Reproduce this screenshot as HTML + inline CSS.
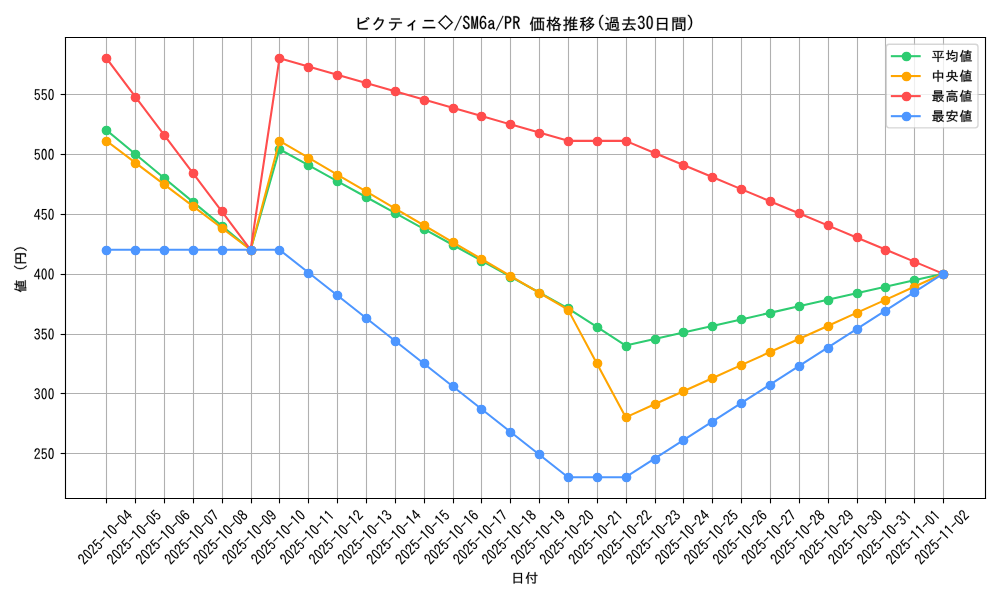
<!DOCTYPE html>
<html><head><meta charset="utf-8"><title>chart</title>
<style>html,body{margin:0;padding:0;background:#fff;width:1000px;height:600px;overflow:hidden;font-family:"Liberation Sans",sans-serif}svg{display:block}g[id^="text_"]{stroke:#000;stroke-width:110}#text_1,#text_2,#text_3,#text_4,#text_5,#text_6,#text_7,#text_8,#text_9,#text_10,#text_11,#text_12,#text_13,#text_14,#text_15,#text_16,#text_17,#text_18,#text_19,#text_20,#text_21,#text_22,#text_23,#text_24,#text_25,#text_26,#text_27,#text_28,#text_29,#text_30,#text_32,#text_33,#text_34,#text_35,#text_36,#text_37,#text_38{stroke-width:50}</style>
</head><body>
<svg width="1000" height="600" viewBox="0 0 720 432" version="1.1">
  <defs>
  <style type="text/css">*{stroke-linejoin: round; stroke-linecap: butt}#text_1,#text_2,#text_3,#text_4,#text_5,#text_6,#text_7,#text_8,#text_9,#text_10,#text_11,#text_12,#text_13,#text_14,#text_15,#text_16,#text_17,#text_18,#text_19,#text_20,#text_21,#text_22,#text_23,#text_24,#text_25,#text_26,#text_27,#text_28,#text_29,#text_30,#text_32,#text_33,#text_34,#text_35,#text_36,#text_37,#text_38{stroke-width:50}</style>
 </defs>
 <g id="figure_1">
  <g id="patch_1">
   <path d="M 0 432 L 720 432 L 720 0 L 0 0 z
" style="fill: #ffffff"/>
  </g>
  <g id="axes_1">
   <g id="patch_2">
    <path d="M 46.4688 358.668 L 709.1568 358.668 L 709.1568 26.856 L 46.4688 26.856 z
" style="fill: #ffffff"/>
   </g>
   <g id="matplotlib.axis_1">
    <g id="xtick_1">
     <g id="line2d_1">
      <path d="M 76.68 358.92 L 76.68 27" clip-path="url(#p3c53676259)" style="fill: none; stroke: #b0b0b0; stroke-width: 0.8; stroke-linecap: square"/>
     </g>
     <g id="line2d_2">
      <defs>
       <path id="mcae35daba4" d="M 0 0 L 0 3.5 " style="stroke: #000000; stroke-width: 0.8"/>
      </defs>
      <g>
       <use href="#mcae35daba4" x="76.68" y="358.92" style="stroke: #000000; stroke-width: 0.8"/>
      </g>
     </g>
     <g id="text_1">
      <!-- 2025-10-04 -->
      <g transform="translate(60.4985 406.8877) rotate(-45) scale(0.1 -0.1)">
       <defs>
        <path id="IPAGothic-32" d="M 2900 325 L 250 325 Q 441 1553 1528 2453 Q 1963 2806 2116 3034 Q 2316 3319 2316 3706 Q 2316 4022 2175 4219 Q 1994 4494 1631 4494 Q 894 4494 825 3406 L 322 3406 Q 359 4056 628 4428 Q 981 4928 1644 4928 Q 2106 4928 2425 4659 Q 2828 4313 2828 3713 Q 2828 2875 1881 2156 Q 1072 1541 909 800 L 2900 800 L 2900 325 z
" transform="matrix(0.0153125 0 0 0.0167188 0 -5.40625)"/>
        <path id="IPAGothic-30" d="M 1600 4934 Q 2844 4934 2844 2566 Q 2844 197 1600 197 Q 359 197 359 2566 Q 359 4934 1600 4934 z M 1600 4494 Q 884 4494 884 2566 Q 884 638 1600 638 Q 2319 638 2319 2566 Q 2319 4494 1600 4494 z" transform="matrix(0.0153125 0 0 0.0167188 0 -5.40625)"/>
        <path id="IPAGothic-35" d="M 566 4806 L 2691 4806 L 2691 4359 L 1013 4359 L 944 2888 Q 1259 3250 1738 3250 Q 2250 3250 2588 2816 Q 2909 2397 2909 1772 Q 2909 1238 2697 844 Q 2341 197 1591 197 Q 538 197 328 1375 L 841 1375 Q 947 644 1588 644 Q 2000 644 2228 997 Q 2422 1294 2422 1766 Q 2422 2184 2259 2456 Q 2059 2822 1653 2822 Q 1156 2822 859 2225 L 456 2309 L 566 4806 z
" transform="matrix(0.0153125 0 0 0.0167188 0 -5.40625)"/>
        <path id="IPAGothic-2d" d="M 313 2663 L 2884 2663 L 2884 2203 L 313 2203 L 313 2663 z
" transform="scale(0.015625)"/>
        <path id="IPAGothic-31" d="M 1428 325 L 1428 4153 Q 1188 3991 756 3809 L 756 4325 Q 1256 4509 1563 4806 L 1953 4806 L 1953 325 L 1428 325 z
" transform="matrix(0.0153125 0 0 0.0167188 0 -5.40625)"/>
        <path id="IPAGothic-34" d="M 1966 4806 L 2509 4806 L 2509 1869 L 3041 1869 L 3041 1434 L 2509 1434 L 2509 325 L 2034 325 L 2034 1434 L 159 1434 L 159 1881 L 1966 4806 z
M 2034 4109 L 641 1869 L 2034 1869 L 2034 4109 z
" transform="matrix(0.0153125 0 0 0.0167188 0 -5.40625)"/>
       </defs>
       <use href="#IPAGothic-32"/>
       <use href="#IPAGothic-30" transform="translate(50 0)"/>
       <use href="#IPAGothic-32" transform="translate(100 0)"/>
       <use href="#IPAGothic-35" transform="translate(150 0)"/>
       <use href="#IPAGothic-2d" transform="translate(200 0)"/>
       <use href="#IPAGothic-31" transform="translate(250 0)"/>
       <use href="#IPAGothic-30" transform="translate(300 0)"/>
       <use href="#IPAGothic-2d" transform="translate(350 0)"/>
       <use href="#IPAGothic-30" transform="translate(400 0)"/>
       <use href="#IPAGothic-34" transform="translate(450 0)"/>
      </g>
     </g>
    </g>
    <g id="xtick_2">
     <g id="line2d_3">
      <path d="M 97.56 358.92 L 97.56 27" clip-path="url(#p3c53676259)" style="fill: none; stroke: #b0b0b0; stroke-width: 0.8; stroke-linecap: square"/>
     </g>
     <g id="line2d_4">
      <g>
       <use href="#mcae35daba4" x="97.56" y="358.92" style="stroke: #000000; stroke-width: 0.8"/>
      </g>
     </g>
     <g id="text_2">
      <!-- 2025-10-05 -->
      <g transform="translate(81.2725 406.8877) rotate(-45) scale(0.1 -0.1)">
       <use href="#IPAGothic-32"/>
       <use href="#IPAGothic-30" transform="translate(50 0)"/>
       <use href="#IPAGothic-32" transform="translate(100 0)"/>
       <use href="#IPAGothic-35" transform="translate(150 0)"/>
       <use href="#IPAGothic-2d" transform="translate(200 0)"/>
       <use href="#IPAGothic-31" transform="translate(250 0)"/>
       <use href="#IPAGothic-30" transform="translate(300 0)"/>
       <use href="#IPAGothic-2d" transform="translate(350 0)"/>
       <use href="#IPAGothic-30" transform="translate(400 0)"/>
       <use href="#IPAGothic-35" transform="translate(450 0)"/>
      </g>
     </g>
    </g>
    <g id="xtick_3">
     <g id="line2d_5">
      <path d="M 118.44 358.92 L 118.44 27" clip-path="url(#p3c53676259)" style="fill: none; stroke: #b0b0b0; stroke-width: 0.8; stroke-linecap: square"/>
     </g>
     <g id="line2d_6">
      <g>
       <use href="#mcae35daba4" x="118.44" y="358.92" style="stroke: #000000; stroke-width: 0.8"/>
      </g>
     </g>
     <g id="text_3">
      <!-- 2025-10-06 -->
      <g transform="translate(102.0464 406.8877) rotate(-45) scale(0.1 -0.1)">
       <defs>
        <path id="IPAGothic-36" d="M 2322 3809 Q 2225 4488 1713 4488 Q 1269 4488 1028 3950 Q 803 3447 794 2588 Q 1159 3119 1725 3119 Q 2194 3119 2519 2772 Q 2903 2369 2903 1709 Q 2903 1159 2641 750 Q 2284 200 1638 200 Q 1050 200 697 738 Q 319 1328 319 2375 Q 319 3488 650 4172 Q 1028 4934 1706 4934 Q 2634 4934 2847 3809 L 2322 3809 z
M 1644 2703 Q 1272 2703 1047 2363 Q 875 2094 875 1691 Q 875 1328 997 1075 Q 1209 641 1650 641 Q 2003 641 2219 959 Q 2409 1241 2409 1697 Q 2409 2113 2244 2375 Q 2041 2703 1644 2703 z
" transform="matrix(0.0153125 0 0 0.0167188 0 -5.40625)"/>
       </defs>
       <use href="#IPAGothic-32"/>
       <use href="#IPAGothic-30" transform="translate(50 0)"/>
       <use href="#IPAGothic-32" transform="translate(100 0)"/>
       <use href="#IPAGothic-35" transform="translate(150 0)"/>
       <use href="#IPAGothic-2d" transform="translate(200 0)"/>
       <use href="#IPAGothic-31" transform="translate(250 0)"/>
       <use href="#IPAGothic-30" transform="translate(300 0)"/>
       <use href="#IPAGothic-2d" transform="translate(350 0)"/>
       <use href="#IPAGothic-30" transform="translate(400 0)"/>
       <use href="#IPAGothic-36" transform="translate(450 0)"/>
      </g>
     </g>
    </g>
    <g id="xtick_4">
     <g id="line2d_7">
      <path d="M 139.32 358.92 L 139.32 27" clip-path="url(#p3c53676259)" style="fill: none; stroke: #b0b0b0; stroke-width: 0.8; stroke-linecap: square"/>
     </g>
     <g id="line2d_8">
      <g>
       <use href="#mcae35daba4" x="139.32" y="358.92" style="stroke: #000000; stroke-width: 0.8"/>
      </g>
     </g>
     <g id="text_4">
      <!-- 2025-10-07 -->
      <g transform="translate(122.8203 406.8877) rotate(-45) scale(0.1 -0.1)">
       <defs>
        <path id="IPAGothic-37" d="M 319 4806 L 2878 4806 L 2878 4441 Q 1978 2213 1528 325 L 947 325 Q 1434 2050 2328 4319 L 319 4319 L 319 4806 z
" transform="matrix(0.0153125 0 0 0.0167188 0 -5.40625)"/>
       </defs>
       <use href="#IPAGothic-32"/>
       <use href="#IPAGothic-30" transform="translate(50 0)"/>
       <use href="#IPAGothic-32" transform="translate(100 0)"/>
       <use href="#IPAGothic-35" transform="translate(150 0)"/>
       <use href="#IPAGothic-2d" transform="translate(200 0)"/>
       <use href="#IPAGothic-31" transform="translate(250 0)"/>
       <use href="#IPAGothic-30" transform="translate(300 0)"/>
       <use href="#IPAGothic-2d" transform="translate(350 0)"/>
       <use href="#IPAGothic-30" transform="translate(400 0)"/>
       <use href="#IPAGothic-37" transform="translate(450 0)"/>
      </g>
     </g>
    </g>
    <g id="xtick_5">
     <g id="line2d_9">
      <path d="M 160.2 358.92 L 160.2 27" clip-path="url(#p3c53676259)" style="fill: none; stroke: #b0b0b0; stroke-width: 0.8; stroke-linecap: square"/>
     </g>
     <g id="line2d_10">
      <g>
       <use href="#mcae35daba4" x="160.2" y="358.92" style="stroke: #000000; stroke-width: 0.8"/>
      </g>
     </g>
     <g id="text_5">
      <!-- 2025-10-08 -->
      <g transform="translate(143.5942 406.8877) rotate(-45) scale(0.1 -0.1)">
       <defs>
        <path id="IPAGothic-38" d="M 1050 2741 Q 403 3056 403 3750 Q 403 4084 563 4359 Q 900 4934 1600 4934 Q 1950 4934 2253 4750 Q 2797 4416 2797 3750 Q 2797 3056 2150 2741 Q 2978 2422 2978 1541 Q 2978 1038 2697 678 Q 2322 197 1600 197 Q 988 197 616 550 Q 225 922 225 1541 Q 225 2422 1050 2741 z
M 1600 4525 Q 1278 4525 1075 4294 Q 891 4078 891 3756 Q 891 3544 969 3372 Q 1159 2956 1606 2956 Q 1863 2956 2041 3116 Q 2309 3347 2309 3756 Q 2309 4156 2041 4378 Q 1856 4525 1600 4525 z
M 1594 2497 Q 1178 2497 931 2191 Q 725 1925 725 1541 Q 725 1172 925 925 Q 1172 619 1600 619 Q 2031 619 2281 925 Q 2478 1172 2478 1541 Q 2478 2022 2184 2278 Q 1947 2497 1594 2497 z
" transform="matrix(0.0153125 0 0 0.0167188 0 -5.40625)"/>
       </defs>
       <use href="#IPAGothic-32"/>
       <use href="#IPAGothic-30" transform="translate(50 0)"/>
       <use href="#IPAGothic-32" transform="translate(100 0)"/>
       <use href="#IPAGothic-35" transform="translate(150 0)"/>
       <use href="#IPAGothic-2d" transform="translate(200 0)"/>
       <use href="#IPAGothic-31" transform="translate(250 0)"/>
       <use href="#IPAGothic-30" transform="translate(300 0)"/>
       <use href="#IPAGothic-2d" transform="translate(350 0)"/>
       <use href="#IPAGothic-30" transform="translate(400 0)"/>
       <use href="#IPAGothic-38" transform="translate(450 0)"/>
      </g>
     </g>
    </g>
    <g id="xtick_6">
     <g id="line2d_11">
      <path d="M 181.08 358.92 L 181.08 27" clip-path="url(#p3c53676259)" style="fill: none; stroke: #b0b0b0; stroke-width: 0.8; stroke-linecap: square"/>
     </g>
     <g id="line2d_12">
      <g>
       <use href="#mcae35daba4" x="181.08" y="358.92" style="stroke: #000000; stroke-width: 0.8"/>
      </g>
     </g>
     <g id="text_6">
      <!-- 2025-10-09 -->
      <g transform="translate(164.3681 406.8877) rotate(-45) scale(0.1 -0.1)">
       <defs>
        <path id="IPAGothic-39" d="M 909 1363 Q 988 666 1569 666 Q 2431 666 2422 2500 Q 2063 1972 1519 1972 Q 859 1972 531 2588 Q 347 2947 347 3419 Q 347 4019 672 4459 Q 1022 4934 1569 4934 Q 2888 4934 2888 2706 Q 2888 197 1575 197 Q 975 197 628 716 Q 450 984 384 1363 L 909 1363 z
M 1591 4494 Q 834 4494 834 3431 Q 834 3038 969 2778 Q 1169 2394 1591 2394 Q 1859 2394 2069 2631 Q 2338 2938 2338 3431 Q 2338 3925 2125 4213 Q 1922 4494 1591 4494 z
" transform="matrix(0.0153125 0 0 0.0167188 0 -5.40625)"/>
       </defs>
       <use href="#IPAGothic-32"/>
       <use href="#IPAGothic-30" transform="translate(50 0)"/>
       <use href="#IPAGothic-32" transform="translate(100 0)"/>
       <use href="#IPAGothic-35" transform="translate(150 0)"/>
       <use href="#IPAGothic-2d" transform="translate(200 0)"/>
       <use href="#IPAGothic-31" transform="translate(250 0)"/>
       <use href="#IPAGothic-30" transform="translate(300 0)"/>
       <use href="#IPAGothic-2d" transform="translate(350 0)"/>
       <use href="#IPAGothic-30" transform="translate(400 0)"/>
       <use href="#IPAGothic-39" transform="translate(450 0)"/>
      </g>
     </g>
    </g>
    <g id="xtick_7">
     <g id="line2d_13">
      <path d="M 201.24 358.92 L 201.24 27" clip-path="url(#p3c53676259)" style="fill: none; stroke: #b0b0b0; stroke-width: 0.8; stroke-linecap: square"/>
     </g>
     <g id="line2d_14">
      <g>
       <use href="#mcae35daba4" x="201.24" y="358.92" style="stroke: #000000; stroke-width: 0.8"/>
      </g>
     </g>
     <g id="text_7">
      <!-- 2025-10-10 -->
      <g transform="translate(185.142 406.8877) rotate(-45) scale(0.1 -0.1)">
       <use href="#IPAGothic-32"/>
       <use href="#IPAGothic-30" transform="translate(50 0)"/>
       <use href="#IPAGothic-32" transform="translate(100 0)"/>
       <use href="#IPAGothic-35" transform="translate(150 0)"/>
       <use href="#IPAGothic-2d" transform="translate(200 0)"/>
       <use href="#IPAGothic-31" transform="translate(250 0)"/>
       <use href="#IPAGothic-30" transform="translate(300 0)"/>
       <use href="#IPAGothic-2d" transform="translate(350 0)"/>
       <use href="#IPAGothic-31" transform="translate(400 0)"/>
       <use href="#IPAGothic-30" transform="translate(450 0)"/>
      </g>
     </g>
    </g>
    <g id="xtick_8">
     <g id="line2d_15">
      <path d="M 222.12 358.92 L 222.12 27" clip-path="url(#p3c53676259)" style="fill: none; stroke: #b0b0b0; stroke-width: 0.8; stroke-linecap: square"/>
     </g>
     <g id="line2d_16">
      <g>
       <use href="#mcae35daba4" x="222.12" y="358.92" style="stroke: #000000; stroke-width: 0.8"/>
      </g>
     </g>
     <g id="text_8">
      <!-- 2025-10-11 -->
      <g transform="translate(205.916 406.8877) rotate(-45) scale(0.1 -0.1)">
       <use href="#IPAGothic-32"/>
       <use href="#IPAGothic-30" transform="translate(50 0)"/>
       <use href="#IPAGothic-32" transform="translate(100 0)"/>
       <use href="#IPAGothic-35" transform="translate(150 0)"/>
       <use href="#IPAGothic-2d" transform="translate(200 0)"/>
       <use href="#IPAGothic-31" transform="translate(250 0)"/>
       <use href="#IPAGothic-30" transform="translate(300 0)"/>
       <use href="#IPAGothic-2d" transform="translate(350 0)"/>
       <use href="#IPAGothic-31" transform="translate(400 0)"/>
       <use href="#IPAGothic-31" transform="translate(450 0)"/>
      </g>
     </g>
    </g>
    <g id="xtick_9">
     <g id="line2d_17">
      <path d="M 243 358.92 L 243 27" clip-path="url(#p3c53676259)" style="fill: none; stroke: #b0b0b0; stroke-width: 0.8; stroke-linecap: square"/>
     </g>
     <g id="line2d_18">
      <g>
       <use href="#mcae35daba4" x="243" y="358.92" style="stroke: #000000; stroke-width: 0.8"/>
      </g>
     </g>
     <g id="text_9">
      <!-- 2025-10-12 -->
      <g transform="translate(226.6899 406.8877) rotate(-45) scale(0.1 -0.1)">
       <use href="#IPAGothic-32"/>
       <use href="#IPAGothic-30" transform="translate(50 0)"/>
       <use href="#IPAGothic-32" transform="translate(100 0)"/>
       <use href="#IPAGothic-35" transform="translate(150 0)"/>
       <use href="#IPAGothic-2d" transform="translate(200 0)"/>
       <use href="#IPAGothic-31" transform="translate(250 0)"/>
       <use href="#IPAGothic-30" transform="translate(300 0)"/>
       <use href="#IPAGothic-2d" transform="translate(350 0)"/>
       <use href="#IPAGothic-31" transform="translate(400 0)"/>
       <use href="#IPAGothic-32" transform="translate(450 0)"/>
      </g>
     </g>
    </g>
    <g id="xtick_10">
     <g id="line2d_19">
      <path d="M 263.88 358.92 L 263.88 27" clip-path="url(#p3c53676259)" style="fill: none; stroke: #b0b0b0; stroke-width: 0.8; stroke-linecap: square"/>
     </g>
     <g id="line2d_20">
      <g>
       <use href="#mcae35daba4" x="263.88" y="358.92" style="stroke: #000000; stroke-width: 0.8"/>
      </g>
     </g>
     <g id="text_10">
      <!-- 2025-10-13 -->
      <g transform="translate(247.4638 406.8877) rotate(-45) scale(0.1 -0.1)">
       <defs>
        <path id="IPAGothic-33" d="M 1113 2931 L 1431 2931 Q 1841 2931 1994 3047 Q 2281 3269 2281 3713 Q 2281 4500 1566 4500 Q 972 4500 838 3828 L 331 3828 Q 400 4250 625 4525 Q 969 4934 1566 4934 Q 2066 4934 2391 4647 Q 2775 4309 2775 3731 Q 2775 2953 2078 2713 Q 2919 2388 2919 1528 Q 2919 978 2606 625 Q 2231 197 1575 197 Q 959 197 594 619 Q 325 928 269 1472 L 794 1472 Q 859 638 1575 638 Q 1906 638 2131 825 Q 2413 1066 2413 1528 Q 2413 2522 1431 2522 L 1113 2522 L 1113 2931 z
" transform="matrix(0.0153125 0 0 0.0167188 0 -5.40625)"/>
       </defs>
       <use href="#IPAGothic-32"/>
       <use href="#IPAGothic-30" transform="translate(50 0)"/>
       <use href="#IPAGothic-32" transform="translate(100 0)"/>
       <use href="#IPAGothic-35" transform="translate(150 0)"/>
       <use href="#IPAGothic-2d" transform="translate(200 0)"/>
       <use href="#IPAGothic-31" transform="translate(250 0)"/>
       <use href="#IPAGothic-30" transform="translate(300 0)"/>
       <use href="#IPAGothic-2d" transform="translate(350 0)"/>
       <use href="#IPAGothic-31" transform="translate(400 0)"/>
       <use href="#IPAGothic-33" transform="translate(450 0)"/>
      </g>
     </g>
    </g>
    <g id="xtick_11">
     <g id="line2d_21">
      <path d="M 284.76 358.92 L 284.76 27" clip-path="url(#p3c53676259)" style="fill: none; stroke: #b0b0b0; stroke-width: 0.8; stroke-linecap: square"/>
     </g>
     <g id="line2d_22">
      <g>
       <use href="#mcae35daba4" x="284.76" y="358.92" style="stroke: #000000; stroke-width: 0.8"/>
      </g>
     </g>
     <g id="text_11">
      <!-- 2025-10-14 -->
      <g transform="translate(268.2377 406.8877) rotate(-45) scale(0.1 -0.1)">
       <use href="#IPAGothic-32"/>
       <use href="#IPAGothic-30" transform="translate(50 0)"/>
       <use href="#IPAGothic-32" transform="translate(100 0)"/>
       <use href="#IPAGothic-35" transform="translate(150 0)"/>
       <use href="#IPAGothic-2d" transform="translate(200 0)"/>
       <use href="#IPAGothic-31" transform="translate(250 0)"/>
       <use href="#IPAGothic-30" transform="translate(300 0)"/>
       <use href="#IPAGothic-2d" transform="translate(350 0)"/>
       <use href="#IPAGothic-31" transform="translate(400 0)"/>
       <use href="#IPAGothic-34" transform="translate(450 0)"/>
      </g>
     </g>
    </g>
    <g id="xtick_12">
     <g id="line2d_23">
      <path d="M 305.64 358.92 L 305.64 27" clip-path="url(#p3c53676259)" style="fill: none; stroke: #b0b0b0; stroke-width: 0.8; stroke-linecap: square"/>
     </g>
     <g id="line2d_24">
      <g>
       <use href="#mcae35daba4" x="305.64" y="358.92" style="stroke: #000000; stroke-width: 0.8"/>
      </g>
     </g>
     <g id="text_12">
      <!-- 2025-10-15 -->
      <g transform="translate(289.0116 406.8877) rotate(-45) scale(0.1 -0.1)">
       <use href="#IPAGothic-32"/>
       <use href="#IPAGothic-30" transform="translate(50 0)"/>
       <use href="#IPAGothic-32" transform="translate(100 0)"/>
       <use href="#IPAGothic-35" transform="translate(150 0)"/>
       <use href="#IPAGothic-2d" transform="translate(200 0)"/>
       <use href="#IPAGothic-31" transform="translate(250 0)"/>
       <use href="#IPAGothic-30" transform="translate(300 0)"/>
       <use href="#IPAGothic-2d" transform="translate(350 0)"/>
       <use href="#IPAGothic-31" transform="translate(400 0)"/>
       <use href="#IPAGothic-35" transform="translate(450 0)"/>
      </g>
     </g>
    </g>
    <g id="xtick_13">
     <g id="line2d_25">
      <path d="M 326.52 358.92 L 326.52 27" clip-path="url(#p3c53676259)" style="fill: none; stroke: #b0b0b0; stroke-width: 0.8; stroke-linecap: square"/>
     </g>
     <g id="line2d_26">
      <g>
       <use href="#mcae35daba4" x="326.52" y="358.92" style="stroke: #000000; stroke-width: 0.8"/>
      </g>
     </g>
     <g id="text_13">
      <!-- 2025-10-16 -->
      <g transform="translate(309.7856 406.8877) rotate(-45) scale(0.1 -0.1)">
       <use href="#IPAGothic-32"/>
       <use href="#IPAGothic-30" transform="translate(50 0)"/>
       <use href="#IPAGothic-32" transform="translate(100 0)"/>
       <use href="#IPAGothic-35" transform="translate(150 0)"/>
       <use href="#IPAGothic-2d" transform="translate(200 0)"/>
       <use href="#IPAGothic-31" transform="translate(250 0)"/>
       <use href="#IPAGothic-30" transform="translate(300 0)"/>
       <use href="#IPAGothic-2d" transform="translate(350 0)"/>
       <use href="#IPAGothic-31" transform="translate(400 0)"/>
       <use href="#IPAGothic-36" transform="translate(450 0)"/>
      </g>
     </g>
    </g>
    <g id="xtick_14">
     <g id="line2d_27">
      <path d="M 346.68 358.92 L 346.68 27" clip-path="url(#p3c53676259)" style="fill: none; stroke: #b0b0b0; stroke-width: 0.8; stroke-linecap: square"/>
     </g>
     <g id="line2d_28">
      <g>
       <use href="#mcae35daba4" x="346.68" y="358.92" style="stroke: #000000; stroke-width: 0.8"/>
      </g>
     </g>
     <g id="text_14">
      <!-- 2025-10-17 -->
      <g transform="translate(330.5595 406.8877) rotate(-45) scale(0.1 -0.1)">
       <use href="#IPAGothic-32"/>
       <use href="#IPAGothic-30" transform="translate(50 0)"/>
       <use href="#IPAGothic-32" transform="translate(100 0)"/>
       <use href="#IPAGothic-35" transform="translate(150 0)"/>
       <use href="#IPAGothic-2d" transform="translate(200 0)"/>
       <use href="#IPAGothic-31" transform="translate(250 0)"/>
       <use href="#IPAGothic-30" transform="translate(300 0)"/>
       <use href="#IPAGothic-2d" transform="translate(350 0)"/>
       <use href="#IPAGothic-31" transform="translate(400 0)"/>
       <use href="#IPAGothic-37" transform="translate(450 0)"/>
      </g>
     </g>
    </g>
    <g id="xtick_15">
     <g id="line2d_29">
      <path d="M 367.56 358.92 L 367.56 27" clip-path="url(#p3c53676259)" style="fill: none; stroke: #b0b0b0; stroke-width: 0.8; stroke-linecap: square"/>
     </g>
     <g id="line2d_30">
      <g>
       <use href="#mcae35daba4" x="367.56" y="358.92" style="stroke: #000000; stroke-width: 0.8"/>
      </g>
     </g>
     <g id="text_15">
      <!-- 2025-10-18 -->
      <g transform="translate(351.3334 406.8877) rotate(-45) scale(0.1 -0.1)">
       <use href="#IPAGothic-32"/>
       <use href="#IPAGothic-30" transform="translate(50 0)"/>
       <use href="#IPAGothic-32" transform="translate(100 0)"/>
       <use href="#IPAGothic-35" transform="translate(150 0)"/>
       <use href="#IPAGothic-2d" transform="translate(200 0)"/>
       <use href="#IPAGothic-31" transform="translate(250 0)"/>
       <use href="#IPAGothic-30" transform="translate(300 0)"/>
       <use href="#IPAGothic-2d" transform="translate(350 0)"/>
       <use href="#IPAGothic-31" transform="translate(400 0)"/>
       <use href="#IPAGothic-38" transform="translate(450 0)"/>
      </g>
     </g>
    </g>
    <g id="xtick_16">
     <g id="line2d_31">
      <path d="M 388.44 358.92 L 388.44 27" clip-path="url(#p3c53676259)" style="fill: none; stroke: #b0b0b0; stroke-width: 0.8; stroke-linecap: square"/>
     </g>
     <g id="line2d_32">
      <g>
       <use href="#mcae35daba4" x="388.44" y="358.92" style="stroke: #000000; stroke-width: 0.8"/>
      </g>
     </g>
     <g id="text_16">
      <!-- 2025-10-19 -->
      <g transform="translate(372.1073 406.8877) rotate(-45) scale(0.1 -0.1)">
       <use href="#IPAGothic-32"/>
       <use href="#IPAGothic-30" transform="translate(50 0)"/>
       <use href="#IPAGothic-32" transform="translate(100 0)"/>
       <use href="#IPAGothic-35" transform="translate(150 0)"/>
       <use href="#IPAGothic-2d" transform="translate(200 0)"/>
       <use href="#IPAGothic-31" transform="translate(250 0)"/>
       <use href="#IPAGothic-30" transform="translate(300 0)"/>
       <use href="#IPAGothic-2d" transform="translate(350 0)"/>
       <use href="#IPAGothic-31" transform="translate(400 0)"/>
       <use href="#IPAGothic-39" transform="translate(450 0)"/>
      </g>
     </g>
    </g>
    <g id="xtick_17">
     <g id="line2d_33">
      <path d="M 409.32 358.92 L 409.32 27" clip-path="url(#p3c53676259)" style="fill: none; stroke: #b0b0b0; stroke-width: 0.8; stroke-linecap: square"/>
     </g>
     <g id="line2d_34">
      <g>
       <use href="#mcae35daba4" x="409.32" y="358.92" style="stroke: #000000; stroke-width: 0.8"/>
      </g>
     </g>
     <g id="text_17">
      <!-- 2025-10-20 -->
      <g transform="translate(392.8812 406.8877) rotate(-45) scale(0.1 -0.1)">
       <use href="#IPAGothic-32"/>
       <use href="#IPAGothic-30" transform="translate(50 0)"/>
       <use href="#IPAGothic-32" transform="translate(100 0)"/>
       <use href="#IPAGothic-35" transform="translate(150 0)"/>
       <use href="#IPAGothic-2d" transform="translate(200 0)"/>
       <use href="#IPAGothic-31" transform="translate(250 0)"/>
       <use href="#IPAGothic-30" transform="translate(300 0)"/>
       <use href="#IPAGothic-2d" transform="translate(350 0)"/>
       <use href="#IPAGothic-32" transform="translate(400 0)"/>
       <use href="#IPAGothic-30" transform="translate(450 0)"/>
      </g>
     </g>
    </g>
    <g id="xtick_18">
     <g id="line2d_35">
      <path d="M 430.2 358.92 L 430.2 27" clip-path="url(#p3c53676259)" style="fill: none; stroke: #b0b0b0; stroke-width: 0.8; stroke-linecap: square"/>
     </g>
     <g id="line2d_36">
      <g>
       <use href="#mcae35daba4" x="430.2" y="358.92" style="stroke: #000000; stroke-width: 0.8"/>
      </g>
     </g>
     <g id="text_18">
      <!-- 2025-10-21 -->
      <g transform="translate(413.6551 406.8877) rotate(-45) scale(0.1 -0.1)">
       <use href="#IPAGothic-32"/>
       <use href="#IPAGothic-30" transform="translate(50 0)"/>
       <use href="#IPAGothic-32" transform="translate(100 0)"/>
       <use href="#IPAGothic-35" transform="translate(150 0)"/>
       <use href="#IPAGothic-2d" transform="translate(200 0)"/>
       <use href="#IPAGothic-31" transform="translate(250 0)"/>
       <use href="#IPAGothic-30" transform="translate(300 0)"/>
       <use href="#IPAGothic-2d" transform="translate(350 0)"/>
       <use href="#IPAGothic-32" transform="translate(400 0)"/>
       <use href="#IPAGothic-31" transform="translate(450 0)"/>
      </g>
     </g>
    </g>
    <g id="xtick_19">
     <g id="line2d_37">
      <path d="M 451.08 358.92 L 451.08 27" clip-path="url(#p3c53676259)" style="fill: none; stroke: #b0b0b0; stroke-width: 0.8; stroke-linecap: square"/>
     </g>
     <g id="line2d_38">
      <g>
       <use href="#mcae35daba4" x="451.08" y="358.92" style="stroke: #000000; stroke-width: 0.8"/>
      </g>
     </g>
     <g id="text_19">
      <!-- 2025-10-22 -->
      <g transform="translate(434.4291 406.8877) rotate(-45) scale(0.1 -0.1)">
       <use href="#IPAGothic-32"/>
       <use href="#IPAGothic-30" transform="translate(50 0)"/>
       <use href="#IPAGothic-32" transform="translate(100 0)"/>
       <use href="#IPAGothic-35" transform="translate(150 0)"/>
       <use href="#IPAGothic-2d" transform="translate(200 0)"/>
       <use href="#IPAGothic-31" transform="translate(250 0)"/>
       <use href="#IPAGothic-30" transform="translate(300 0)"/>
       <use href="#IPAGothic-2d" transform="translate(350 0)"/>
       <use href="#IPAGothic-32" transform="translate(400 0)"/>
       <use href="#IPAGothic-32" transform="translate(450 0)"/>
      </g>
     </g>
    </g>
    <g id="xtick_20">
     <g id="line2d_39">
      <path d="M 471.96 358.92 L 471.96 27" clip-path="url(#p3c53676259)" style="fill: none; stroke: #b0b0b0; stroke-width: 0.8; stroke-linecap: square"/>
     </g>
     <g id="line2d_40">
      <g>
       <use href="#mcae35daba4" x="471.96" y="358.92" style="stroke: #000000; stroke-width: 0.8"/>
      </g>
     </g>
     <g id="text_20">
      <!-- 2025-10-23 -->
      <g transform="translate(455.203 406.8877) rotate(-45) scale(0.1 -0.1)">
       <use href="#IPAGothic-32"/>
       <use href="#IPAGothic-30" transform="translate(50 0)"/>
       <use href="#IPAGothic-32" transform="translate(100 0)"/>
       <use href="#IPAGothic-35" transform="translate(150 0)"/>
       <use href="#IPAGothic-2d" transform="translate(200 0)"/>
       <use href="#IPAGothic-31" transform="translate(250 0)"/>
       <use href="#IPAGothic-30" transform="translate(300 0)"/>
       <use href="#IPAGothic-2d" transform="translate(350 0)"/>
       <use href="#IPAGothic-32" transform="translate(400 0)"/>
       <use href="#IPAGothic-33" transform="translate(450 0)"/>
      </g>
     </g>
    </g>
    <g id="xtick_21">
     <g id="line2d_41">
      <path d="M 492.12 358.92 L 492.12 27" clip-path="url(#p3c53676259)" style="fill: none; stroke: #b0b0b0; stroke-width: 0.8; stroke-linecap: square"/>
     </g>
     <g id="line2d_42">
      <g>
       <use href="#mcae35daba4" x="492.12" y="358.92" style="stroke: #000000; stroke-width: 0.8"/>
      </g>
     </g>
     <g id="text_21">
      <!-- 2025-10-24 -->
      <g transform="translate(475.9769 406.8877) rotate(-45) scale(0.1 -0.1)">
       <use href="#IPAGothic-32"/>
       <use href="#IPAGothic-30" transform="translate(50 0)"/>
       <use href="#IPAGothic-32" transform="translate(100 0)"/>
       <use href="#IPAGothic-35" transform="translate(150 0)"/>
       <use href="#IPAGothic-2d" transform="translate(200 0)"/>
       <use href="#IPAGothic-31" transform="translate(250 0)"/>
       <use href="#IPAGothic-30" transform="translate(300 0)"/>
       <use href="#IPAGothic-2d" transform="translate(350 0)"/>
       <use href="#IPAGothic-32" transform="translate(400 0)"/>
       <use href="#IPAGothic-34" transform="translate(450 0)"/>
      </g>
     </g>
    </g>
    <g id="xtick_22">
     <g id="line2d_43">
      <path d="M 513 358.92 L 513 27" clip-path="url(#p3c53676259)" style="fill: none; stroke: #b0b0b0; stroke-width: 0.8; stroke-linecap: square"/>
     </g>
     <g id="line2d_44">
      <g>
       <use href="#mcae35daba4" x="513" y="358.92" style="stroke: #000000; stroke-width: 0.8"/>
      </g>
     </g>
     <g id="text_22">
      <!-- 2025-10-25 -->
      <g transform="translate(496.7508 406.8877) rotate(-45) scale(0.1 -0.1)">
       <use href="#IPAGothic-32"/>
       <use href="#IPAGothic-30" transform="translate(50 0)"/>
       <use href="#IPAGothic-32" transform="translate(100 0)"/>
       <use href="#IPAGothic-35" transform="translate(150 0)"/>
       <use href="#IPAGothic-2d" transform="translate(200 0)"/>
       <use href="#IPAGothic-31" transform="translate(250 0)"/>
       <use href="#IPAGothic-30" transform="translate(300 0)"/>
       <use href="#IPAGothic-2d" transform="translate(350 0)"/>
       <use href="#IPAGothic-32" transform="translate(400 0)"/>
       <use href="#IPAGothic-35" transform="translate(450 0)"/>
      </g>
     </g>
    </g>
    <g id="xtick_23">
     <g id="line2d_45">
      <path d="M 533.88 358.92 L 533.88 27" clip-path="url(#p3c53676259)" style="fill: none; stroke: #b0b0b0; stroke-width: 0.8; stroke-linecap: square"/>
     </g>
     <g id="line2d_46">
      <g>
       <use href="#mcae35daba4" x="533.88" y="358.92" style="stroke: #000000; stroke-width: 0.8"/>
      </g>
     </g>
     <g id="text_23">
      <!-- 2025-10-26 -->
      <g transform="translate(517.5247 406.8877) rotate(-45) scale(0.1 -0.1)">
       <use href="#IPAGothic-32"/>
       <use href="#IPAGothic-30" transform="translate(50 0)"/>
       <use href="#IPAGothic-32" transform="translate(100 0)"/>
       <use href="#IPAGothic-35" transform="translate(150 0)"/>
       <use href="#IPAGothic-2d" transform="translate(200 0)"/>
       <use href="#IPAGothic-31" transform="translate(250 0)"/>
       <use href="#IPAGothic-30" transform="translate(300 0)"/>
       <use href="#IPAGothic-2d" transform="translate(350 0)"/>
       <use href="#IPAGothic-32" transform="translate(400 0)"/>
       <use href="#IPAGothic-36" transform="translate(450 0)"/>
      </g>
     </g>
    </g>
    <g id="xtick_24">
     <g id="line2d_47">
      <path d="M 554.76 358.92 L 554.76 27" clip-path="url(#p3c53676259)" style="fill: none; stroke: #b0b0b0; stroke-width: 0.8; stroke-linecap: square"/>
     </g>
     <g id="line2d_48">
      <g>
       <use href="#mcae35daba4" x="554.76" y="358.92" style="stroke: #000000; stroke-width: 0.8"/>
      </g>
     </g>
     <g id="text_24">
      <!-- 2025-10-27 -->
      <g transform="translate(538.2987 406.8877) rotate(-45) scale(0.1 -0.1)">
       <use href="#IPAGothic-32"/>
       <use href="#IPAGothic-30" transform="translate(50 0)"/>
       <use href="#IPAGothic-32" transform="translate(100 0)"/>
       <use href="#IPAGothic-35" transform="translate(150 0)"/>
       <use href="#IPAGothic-2d" transform="translate(200 0)"/>
       <use href="#IPAGothic-31" transform="translate(250 0)"/>
       <use href="#IPAGothic-30" transform="translate(300 0)"/>
       <use href="#IPAGothic-2d" transform="translate(350 0)"/>
       <use href="#IPAGothic-32" transform="translate(400 0)"/>
       <use href="#IPAGothic-37" transform="translate(450 0)"/>
      </g>
     </g>
    </g>
    <g id="xtick_25">
     <g id="line2d_49">
      <path d="M 575.64 358.92 L 575.64 27" clip-path="url(#p3c53676259)" style="fill: none; stroke: #b0b0b0; stroke-width: 0.8; stroke-linecap: square"/>
     </g>
     <g id="line2d_50">
      <g>
       <use href="#mcae35daba4" x="575.64" y="358.92" style="stroke: #000000; stroke-width: 0.8"/>
      </g>
     </g>
     <g id="text_25">
      <!-- 2025-10-28 -->
      <g transform="translate(559.0726 406.8877) rotate(-45) scale(0.1 -0.1)">
       <use href="#IPAGothic-32"/>
       <use href="#IPAGothic-30" transform="translate(50 0)"/>
       <use href="#IPAGothic-32" transform="translate(100 0)"/>
       <use href="#IPAGothic-35" transform="translate(150 0)"/>
       <use href="#IPAGothic-2d" transform="translate(200 0)"/>
       <use href="#IPAGothic-31" transform="translate(250 0)"/>
       <use href="#IPAGothic-30" transform="translate(300 0)"/>
       <use href="#IPAGothic-2d" transform="translate(350 0)"/>
       <use href="#IPAGothic-32" transform="translate(400 0)"/>
       <use href="#IPAGothic-38" transform="translate(450 0)"/>
      </g>
     </g>
    </g>
    <g id="xtick_26">
     <g id="line2d_51">
      <path d="M 596.52 358.92 L 596.52 27" clip-path="url(#p3c53676259)" style="fill: none; stroke: #b0b0b0; stroke-width: 0.8; stroke-linecap: square"/>
     </g>
     <g id="line2d_52">
      <g>
       <use href="#mcae35daba4" x="596.52" y="358.92" style="stroke: #000000; stroke-width: 0.8"/>
      </g>
     </g>
     <g id="text_26">
      <!-- 2025-10-29 -->
      <g transform="translate(579.8465 406.8877) rotate(-45) scale(0.1 -0.1)">
       <use href="#IPAGothic-32"/>
       <use href="#IPAGothic-30" transform="translate(50 0)"/>
       <use href="#IPAGothic-32" transform="translate(100 0)"/>
       <use href="#IPAGothic-35" transform="translate(150 0)"/>
       <use href="#IPAGothic-2d" transform="translate(200 0)"/>
       <use href="#IPAGothic-31" transform="translate(250 0)"/>
       <use href="#IPAGothic-30" transform="translate(300 0)"/>
       <use href="#IPAGothic-2d" transform="translate(350 0)"/>
       <use href="#IPAGothic-32" transform="translate(400 0)"/>
       <use href="#IPAGothic-39" transform="translate(450 0)"/>
      </g>
     </g>
    </g>
    <g id="xtick_27">
     <g id="line2d_53">
      <path d="M 617.4 358.92 L 617.4 27" clip-path="url(#p3c53676259)" style="fill: none; stroke: #b0b0b0; stroke-width: 0.8; stroke-linecap: square"/>
     </g>
     <g id="line2d_54">
      <g>
       <use href="#mcae35daba4" x="617.4" y="358.92" style="stroke: #000000; stroke-width: 0.8"/>
      </g>
     </g>
     <g id="text_27">
      <!-- 2025-10-30 -->
      <g transform="translate(600.6204 406.8877) rotate(-45) scale(0.1 -0.1)">
       <use href="#IPAGothic-32"/>
       <use href="#IPAGothic-30" transform="translate(50 0)"/>
       <use href="#IPAGothic-32" transform="translate(100 0)"/>
       <use href="#IPAGothic-35" transform="translate(150 0)"/>
       <use href="#IPAGothic-2d" transform="translate(200 0)"/>
       <use href="#IPAGothic-31" transform="translate(250 0)"/>
       <use href="#IPAGothic-30" transform="translate(300 0)"/>
       <use href="#IPAGothic-2d" transform="translate(350 0)"/>
       <use href="#IPAGothic-33" transform="translate(400 0)"/>
       <use href="#IPAGothic-30" transform="translate(450 0)"/>
      </g>
     </g>
    </g>
    <g id="xtick_28">
     <g id="line2d_55">
      <path d="M 637.56 358.92 L 637.56 27" clip-path="url(#p3c53676259)" style="fill: none; stroke: #b0b0b0; stroke-width: 0.8; stroke-linecap: square"/>
     </g>
     <g id="line2d_56">
      <g>
       <use href="#mcae35daba4" x="637.56" y="358.92" style="stroke: #000000; stroke-width: 0.8"/>
      </g>
     </g>
     <g id="text_28">
      <!-- 2025-10-31 -->
      <g transform="translate(621.3943 406.8877) rotate(-45) scale(0.1 -0.1)">
       <use href="#IPAGothic-32"/>
       <use href="#IPAGothic-30" transform="translate(50 0)"/>
       <use href="#IPAGothic-32" transform="translate(100 0)"/>
       <use href="#IPAGothic-35" transform="translate(150 0)"/>
       <use href="#IPAGothic-2d" transform="translate(200 0)"/>
       <use href="#IPAGothic-31" transform="translate(250 0)"/>
       <use href="#IPAGothic-30" transform="translate(300 0)"/>
       <use href="#IPAGothic-2d" transform="translate(350 0)"/>
       <use href="#IPAGothic-33" transform="translate(400 0)"/>
       <use href="#IPAGothic-31" transform="translate(450 0)"/>
      </g>
     </g>
    </g>
    <g id="xtick_29">
     <g id="line2d_57">
      <path d="M 658.44 358.92 L 658.44 27" clip-path="url(#p3c53676259)" style="fill: none; stroke: #b0b0b0; stroke-width: 0.8; stroke-linecap: square"/>
     </g>
     <g id="line2d_58">
      <g>
       <use href="#mcae35daba4" x="658.44" y="358.92" style="stroke: #000000; stroke-width: 0.8"/>
      </g>
     </g>
     <g id="text_29">
      <!-- 2025-11-01 -->
      <g transform="translate(642.1683 406.8877) rotate(-45) scale(0.1 -0.1)">
       <use href="#IPAGothic-32"/>
       <use href="#IPAGothic-30" transform="translate(50 0)"/>
       <use href="#IPAGothic-32" transform="translate(100 0)"/>
       <use href="#IPAGothic-35" transform="translate(150 0)"/>
       <use href="#IPAGothic-2d" transform="translate(200 0)"/>
       <use href="#IPAGothic-31" transform="translate(250 0)"/>
       <use href="#IPAGothic-31" transform="translate(300 0)"/>
       <use href="#IPAGothic-2d" transform="translate(350 0)"/>
       <use href="#IPAGothic-30" transform="translate(400 0)"/>
       <use href="#IPAGothic-31" transform="translate(450 0)"/>
      </g>
     </g>
    </g>
    <g id="xtick_30">
     <g id="line2d_59">
      <path d="M 679.32 358.92 L 679.32 27" clip-path="url(#p3c53676259)" style="fill: none; stroke: #b0b0b0; stroke-width: 0.8; stroke-linecap: square"/>
     </g>
     <g id="line2d_60">
      <g>
       <use href="#mcae35daba4" x="679.32" y="358.92" style="stroke: #000000; stroke-width: 0.8"/>
      </g>
     </g>
     <g id="text_30">
      <!-- 2025-11-02 -->
      <g transform="translate(662.9422 406.8877) rotate(-45) scale(0.1 -0.1)">
       <use href="#IPAGothic-32"/>
       <use href="#IPAGothic-30" transform="translate(50 0)"/>
       <use href="#IPAGothic-32" transform="translate(100 0)"/>
       <use href="#IPAGothic-35" transform="translate(150 0)"/>
       <use href="#IPAGothic-2d" transform="translate(200 0)"/>
       <use href="#IPAGothic-31" transform="translate(250 0)"/>
       <use href="#IPAGothic-31" transform="translate(300 0)"/>
       <use href="#IPAGothic-2d" transform="translate(350 0)"/>
       <use href="#IPAGothic-30" transform="translate(400 0)"/>
       <use href="#IPAGothic-32" transform="translate(450 0)"/>
      </g>
     </g>
    </g>
    <g id="text_31">
     <!-- 日付 -->
     <g transform="translate(367.8128 419.7959) scale(0.1 -0.1)">
      <defs>
       <path id="IPAGothic-65e5" d="M 5231 4800 L 5231 -288 L 4744 -288 L 4744 128 L 1647 128 L 1647 -288 L 1159 -288 L 1159 4800 L 5231 4800 z
M 1647 4372 L 1647 2731 L 4744 2731 L 4744 4372 L 1647 4372 z
M 1647 2297 L 1647 556 L 4744 556 L 4744 2297 L 1647 2297 z
" transform="matrix(0.0148437 0 0 0.0148437 2.5 1.90625)"/>
       <path id="IPAGothic-4ed8" d="M 1681 3772 L 1681 -447 L 1213 -447 L 1213 2825 Q 913 2316 578 1863 L 316 2253 Q 1241 3463 1653 5184 L 2128 5069 Q 1928 4378 1719 3859 L 1681 3772 z
M 5084 3816 L 5994 3816 L 5994 3388 L 5109 3388 L 5109 213 Q 5109 -78 5006 -191 Q 4888 -319 4525 -319 Q 4031 -319 3516 -266 L 3431 238 Q 3978 141 4403 141 Q 4634 141 4634 384 L 4634 3388 L 2031 3388 L 2031 3816 L 4609 3816 L 4609 5153 L 5084 5153 L 5084 3816 z
M 3431 1172 Q 3034 1994 2547 2566 L 2931 2822 Q 3428 2231 3853 1472 L 3431 1172 z
" transform="matrix(0.0148437 0 0 0.0148437 2.5 1.90625)"/>
      </defs>
      <use href="#IPAGothic-65e5"/>
      <use href="#IPAGothic-4ed8" transform="translate(100 0)"/>
     </g>
    </g>
   </g>
   <g id="matplotlib.axis_2">
    <g id="ytick_1">
     <g id="line2d_61">
      <path d="M 47.16 326.52 L 709.56 326.52" clip-path="url(#p3c53676259)" style="fill: none; stroke: #b0b0b0; stroke-width: 0.8; stroke-linecap: square"/>
     </g>
     <g id="line2d_62">
      <defs>
       <path id="m939e4ba96f" d="M 0 0 L -3.5 0 " style="stroke: #000000; stroke-width: 0.8"/>
      </defs>
      <g>
       <use href="#m939e4ba96f" x="47.16" y="326.52" style="stroke: #000000; stroke-width: 0.8"/>
      </g>
     </g>
     <g id="text_32">
      <!-- 250 -->
      <g transform="translate(24.3248 330.3553) scale(0.1 -0.1)">
       <use href="#IPAGothic-32"/>
       <use href="#IPAGothic-35" transform="translate(50 0)"/>
       <use href="#IPAGothic-30" transform="translate(100 0)"/>
      </g>
     </g>
    </g>
    <g id="ytick_2">
     <g id="line2d_63">
      <path d="M 47.16 283.32 L 709.56 283.32" clip-path="url(#p3c53676259)" style="fill: none; stroke: #b0b0b0; stroke-width: 0.8; stroke-linecap: square"/>
     </g>
     <g id="line2d_64">
      <g>
       <use href="#m939e4ba96f" x="47.16" y="283.32" style="stroke: #000000; stroke-width: 0.8"/>
      </g>
     </g>
     <g id="text_33">
      <!-- 300 -->
      <g transform="translate(24.3248 287.2629) scale(0.1 -0.1)">
       <use href="#IPAGothic-33"/>
       <use href="#IPAGothic-30" transform="translate(50 0)"/>
       <use href="#IPAGothic-30" transform="translate(100 0)"/>
      </g>
     </g>
    </g>
    <g id="ytick_3">
     <g id="line2d_65">
      <path d="M 47.16 240.84 L 709.56 240.84" clip-path="url(#p3c53676259)" style="fill: none; stroke: #b0b0b0; stroke-width: 0.8; stroke-linecap: square"/>
     </g>
     <g id="line2d_66">
      <g>
       <use href="#m939e4ba96f" x="47.16" y="240.84" style="stroke: #000000; stroke-width: 0.8"/>
      </g>
     </g>
     <g id="text_34">
      <!-- 350 -->
      <g transform="translate(24.3248 244.1704) scale(0.1 -0.1)">
       <use href="#IPAGothic-33"/>
       <use href="#IPAGothic-35" transform="translate(50 0)"/>
       <use href="#IPAGothic-30" transform="translate(100 0)"/>
      </g>
     </g>
    </g>
    <g id="ytick_4">
     <g id="line2d_67">
      <path d="M 47.16 197.64 L 709.56 197.64" clip-path="url(#p3c53676259)" style="fill: none; stroke: #b0b0b0; stroke-width: 0.8; stroke-linecap: square"/>
     </g>
     <g id="line2d_68">
      <g>
       <use href="#m939e4ba96f" x="47.16" y="197.64" style="stroke: #000000; stroke-width: 0.8"/>
      </g>
     </g>
     <g id="text_35">
      <!-- 400 -->
      <g transform="translate(24.3248 201.0779) scale(0.1 -0.1)">
       <use href="#IPAGothic-34"/>
       <use href="#IPAGothic-30" transform="translate(50 0)"/>
       <use href="#IPAGothic-30" transform="translate(100 0)"/>
      </g>
     </g>
    </g>
    <g id="ytick_5">
     <g id="line2d_69">
      <path d="M 47.16 154.44 L 709.56 154.44" clip-path="url(#p3c53676259)" style="fill: none; stroke: #b0b0b0; stroke-width: 0.8; stroke-linecap: square"/>
     </g>
     <g id="line2d_70">
      <g>
       <use href="#m939e4ba96f" x="47.16" y="154.44" style="stroke: #000000; stroke-width: 0.8"/>
      </g>
     </g>
     <g id="text_36">
      <!-- 450 -->
      <g transform="translate(24.3248 157.9855) scale(0.1 -0.1)">
       <use href="#IPAGothic-34"/>
       <use href="#IPAGothic-35" transform="translate(50 0)"/>
       <use href="#IPAGothic-30" transform="translate(100 0)"/>
      </g>
     </g>
    </g>
    <g id="ytick_6">
     <g id="line2d_71">
      <path d="M 47.16 111.24 L 709.56 111.24" clip-path="url(#p3c53676259)" style="fill: none; stroke: #b0b0b0; stroke-width: 0.8; stroke-linecap: square"/>
     </g>
     <g id="line2d_72">
      <g>
       <use href="#m939e4ba96f" x="47.16" y="111.24" style="stroke: #000000; stroke-width: 0.8"/>
      </g>
     </g>
     <g id="text_37">
      <!-- 500 -->
      <g transform="translate(24.3248 114.893) scale(0.1 -0.1)">
       <use href="#IPAGothic-35"/>
       <use href="#IPAGothic-30" transform="translate(50 0)"/>
       <use href="#IPAGothic-30" transform="translate(100 0)"/>
      </g>
     </g>
    </g>
    <g id="ytick_7">
     <g id="line2d_73">
      <path d="M 47.16 68.04 L 709.56 68.04" clip-path="url(#p3c53676259)" style="fill: none; stroke: #b0b0b0; stroke-width: 0.8; stroke-linecap: square"/>
     </g>
     <g id="line2d_74">
      <g>
       <use href="#m939e4ba96f" x="47.16" y="68.04" style="stroke: #000000; stroke-width: 0.8"/>
      </g>
     </g>
     <g id="text_38">
      <!-- 550 -->
      <g transform="translate(24.3248 71.8005) scale(0.1 -0.1)">
       <use href="#IPAGothic-35"/>
       <use href="#IPAGothic-35" transform="translate(50 0)"/>
       <use href="#IPAGothic-30" transform="translate(100 0)"/>
      </g>
     </g>
    </g>
    <g id="text_39">
     <!-- 値 (円) -->
     <g transform="translate(18.4607 210.982) rotate(-90) scale(0.1 -0.1)">
      <defs>
       <path id="IPAGothic-5024" d="M 4172 3675 L 5453 3675 L 5453 684 L 3019 684 L 3019 3675 L 3747 3675 Q 3788 3884 3825 4153 L 2144 4153 L 2144 4544 L 3881 4544 Q 3922 4841 3966 5325 L 4434 5272 L 4391 4953 Q 4331 4578 4331 4544 L 5863 4544 L 5863 4153 L 4269 4153 Q 4200 3781 4172 3675 z
M 5038 3316 L 3434 3316 L 3434 2803 L 5038 2803 L 5038 3316 z
M 3434 2450 L 3434 1941 L 5038 1941 L 5038 2450 L 3434 2450 z
M 3434 1588 L 3434 1044 L 5038 1044 L 5038 1588 L 3434 1588 z
M 1509 3669 L 1509 -447 L 1069 -447 L 1069 2728 Q 856 2338 531 1875 L 288 2266 Q 1163 3534 1541 5325 L 1975 5225 Q 1791 4378 1509 3669 z
M 2488 244 L 6034 244 L 6034 -153 L 2488 -153 L 2488 -447 L 2059 -447 L 2059 3213 L 2488 3213 L 2488 244 z
" transform="matrix(0.0148437 0 0 0.0148437 2.5 1.90625)"/>
       <path id="IPAGothic-20" transform="scale(0.015625)"/>
       <path id="IPAGothic-28" d="M 2219 -434 Q 997 769 997 2441 Q 997 4097 2219 5300 L 2719 5300 Q 1478 4078 1478 2425 Q 1478 788 2719 -434 L 2219 -434 z
" transform="matrix(0.015625 0 0 0.015625 5.46875 0)"/>
       <path id="IPAGothic-5186" d="M 5594 4806 L 5594 319 Q 5594 34 5491 -97 Q 5366 -269 4959 -269 Q 4469 -269 3897 -225 L 3809 275 Q 4384 206 4844 206 Q 5106 206 5106 434 L 5106 2119 L 1281 2119 L 1281 -359 L 794 -359 L 794 4806 L 5594 4806 z
M 1281 4366 L 1281 2547 L 2944 2547 L 2944 4366 L 1281 4366 z
M 5106 2547 L 5106 4366 L 3413 4366 L 3413 2547 L 5106 2547 z
" transform="matrix(0.0148437 0 0 0.0148437 2.5 1.90625)"/>
       <path id="IPAGothic-29" d="M 481 -434 Q 1722 788 1722 2434 Q 1722 4069 481 5300 L 981 5300 Q 2203 4097 2203 2434 Q 2203 769 981 -434 L 481 -434 z
" transform="matrix(0.015625 0 0 0.015625 -4.6875 0)"/>
      </defs>
      <use href="#IPAGothic-5024"/>
      <use href="#IPAGothic-20" transform="translate(100 0)"/>
      <use href="#IPAGothic-28" transform="translate(150 0)"/>
      <use href="#IPAGothic-5186" transform="translate(200 0)"/>
      <use href="#IPAGothic-29" transform="translate(300 0)"/>
     </g>
    </g>
   </g>
   <g id="line2d_75">
    <path d="M 76.590982 93.649325 L 97.3649 110.886312 L 118.138819 128.123299 L 138.912737 145.360286 L 159.686656 162.597273 L 180.460574 179.83426 L 201.234493 107.438914 L 222.008411 118.901511 L 242.78233 130.364107 L 263.556248 141.826703 L 284.330167 153.2893 L 305.104085 164.751896 L 325.878004 176.214492 L 346.651922 187.677089 L 367.425841 199.139685 L 388.199759 210.602282 L 408.973678 222.064878 L 429.747596 235.423543 L 450.521515 248.782208 L 471.295433 244.081211 L 492.069352 239.380215 L 512.84327 234.679218 L 533.617189 229.978222 L 554.391107 225.277226 L 575.165026 220.576229 L 595.938944 215.875233 L 616.712863 211.174236 L 637.486781 206.47324 L 658.2607 201.772243 L 679.034618 197.071247 " clip-path="url(#p3c53676259)" style="fill: none; stroke: #2ecc71; stroke-width: 1.5; stroke-linecap: square"/>
    <defs>
     <path id="m2b40bc5d93" d="M 0 3 C 0.795609 3 1.55874 2.683901 2.12132 2.12132 C 2.683901 1.55874 3 0.795609 3 0 C 3 -0.795609 2.683901 -1.55874 2.12132 -2.12132 C 1.55874 -2.683901 0.795609 -3 0 -3 C -0.795609 -3 -1.55874 -2.683901 -2.12132 -2.12132 C -2.683901 -1.55874 -3 -0.795609 -3 0 C -3 0.795609 -2.683901 1.55874 -2.12132 2.12132 C -1.55874 2.683901 -0.795609 3 0 3 z
" style="stroke: #2ecc71"/>
    </defs>
    <g clip-path="url(#p3c53676259)">
     <use href="#m2b40bc5d93" x="76.68" y="93.96" style="fill: #2ecc71; stroke: #2ecc71"/>
     <use href="#m2b40bc5d93" x="97.56" y="111.24" style="fill: #2ecc71; stroke: #2ecc71"/>
     <use href="#m2b40bc5d93" x="118.44" y="128.52" style="fill: #2ecc71; stroke: #2ecc71"/>
     <use href="#m2b40bc5d93" x="139.32" y="145.8" style="fill: #2ecc71; stroke: #2ecc71"/>
     <use href="#m2b40bc5d93" x="160.2" y="163.08" style="fill: #2ecc71; stroke: #2ecc71"/>
     <use href="#m2b40bc5d93" x="181.08" y="180.36" style="fill: #2ecc71; stroke: #2ecc71"/>
     <use href="#m2b40bc5d93" x="201.24" y="107.64" style="fill: #2ecc71; stroke: #2ecc71"/>
     <use href="#m2b40bc5d93" x="222.12" y="119.16" style="fill: #2ecc71; stroke: #2ecc71"/>
     <use href="#m2b40bc5d93" x="243" y="130.68" style="fill: #2ecc71; stroke: #2ecc71"/>
     <use href="#m2b40bc5d93" x="263.88" y="142.2" style="fill: #2ecc71; stroke: #2ecc71"/>
     <use href="#m2b40bc5d93" x="284.76" y="153.72" style="fill: #2ecc71; stroke: #2ecc71"/>
     <use href="#m2b40bc5d93" x="305.64" y="165.24" style="fill: #2ecc71; stroke: #2ecc71"/>
     <use href="#m2b40bc5d93" x="326.52" y="176.76" style="fill: #2ecc71; stroke: #2ecc71"/>
     <use href="#m2b40bc5d93" x="346.68" y="188.28" style="fill: #2ecc71; stroke: #2ecc71"/>
     <use href="#m2b40bc5d93" x="367.56" y="199.8" style="fill: #2ecc71; stroke: #2ecc71"/>
     <use href="#m2b40bc5d93" x="388.44" y="211.32" style="fill: #2ecc71; stroke: #2ecc71"/>
     <use href="#m2b40bc5d93" x="409.32" y="222.12" style="fill: #2ecc71; stroke: #2ecc71"/>
     <use href="#m2b40bc5d93" x="430.2" y="235.8" style="fill: #2ecc71; stroke: #2ecc71"/>
     <use href="#m2b40bc5d93" x="451.08" y="249.48" style="fill: #2ecc71; stroke: #2ecc71"/>
     <use href="#m2b40bc5d93" x="471.96" y="244.44" style="fill: #2ecc71; stroke: #2ecc71"/>
     <use href="#m2b40bc5d93" x="492.12" y="239.4" style="fill: #2ecc71; stroke: #2ecc71"/>
     <use href="#m2b40bc5d93" x="513" y="235.08" style="fill: #2ecc71; stroke: #2ecc71"/>
     <use href="#m2b40bc5d93" x="533.88" y="230.04" style="fill: #2ecc71; stroke: #2ecc71"/>
     <use href="#m2b40bc5d93" x="554.76" y="225.72" style="fill: #2ecc71; stroke: #2ecc71"/>
     <use href="#m2b40bc5d93" x="575.64" y="220.68" style="fill: #2ecc71; stroke: #2ecc71"/>
     <use href="#m2b40bc5d93" x="596.52" y="216.36" style="fill: #2ecc71; stroke: #2ecc71"/>
     <use href="#m2b40bc5d93" x="617.4" y="211.32" style="fill: #2ecc71; stroke: #2ecc71"/>
     <use href="#m2b40bc5d93" x="637.56" y="207" style="fill: #2ecc71; stroke: #2ecc71"/>
     <use href="#m2b40bc5d93" x="658.44" y="201.96" style="fill: #2ecc71; stroke: #2ecc71"/>
     <use href="#m2b40bc5d93" x="679.32" y="197.64" style="fill: #2ecc71; stroke: #2ecc71"/>
    </g>
   </g>
   <g id="line2d_76">
    <path d="M 76.590982 101.405969 L 97.3649 117.091627 L 118.138819 132.777285 L 138.912737 148.462943 L 159.686656 164.148602 L 180.460574 179.83426 L 201.234493 101.405969 L 222.008411 113.558045 L 242.78233 125.710121 L 263.556248 137.862196 L 284.330167 150.014272 L 305.104085 162.166348 L 325.878004 174.318424 L 346.651922 186.4705 L 367.425841 198.622576 L 388.199759 210.774651 L 408.973678 222.926727 L 429.747596 261.709948 L 450.521515 300.493169 L 471.295433 291.091176 L 492.069352 281.689183 L 512.84327 272.28719 L 533.617189 262.885197 L 554.391107 253.483204 L 575.165026 244.081211 L 595.938944 234.679218 L 616.712863 225.277226 L 637.486781 215.875233 L 658.2607 206.47324 L 679.034618 197.071247 " clip-path="url(#p3c53676259)" style="fill: none; stroke: #ffa500; stroke-width: 1.5; stroke-linecap: square"/>
    <defs>
     <path id="md26324b329" d="M 0 3 C 0.795609 3 1.55874 2.683901 2.12132 2.12132 C 2.683901 1.55874 3 0.795609 3 0 C 3 -0.795609 2.683901 -1.55874 2.12132 -2.12132 C 1.55874 -2.683901 0.795609 -3 0 -3 C -0.795609 -3 -1.55874 -2.683901 -2.12132 -2.12132 C -2.683901 -1.55874 -3 -0.795609 -3 0 C -3 0.795609 -2.683901 1.55874 -2.12132 2.12132 C -1.55874 2.683901 -0.795609 3 0 3 z
" style="stroke: #ffa500"/>
    </defs>
    <g clip-path="url(#p3c53676259)">
     <use href="#md26324b329" x="76.68" y="101.88" style="fill: #ffa500; stroke: #ffa500"/>
     <use href="#md26324b329" x="97.56" y="117.72" style="fill: #ffa500; stroke: #ffa500"/>
     <use href="#md26324b329" x="118.44" y="132.84" style="fill: #ffa500; stroke: #ffa500"/>
     <use href="#md26324b329" x="139.32" y="148.68" style="fill: #ffa500; stroke: #ffa500"/>
     <use href="#md26324b329" x="160.2" y="164.52" style="fill: #ffa500; stroke: #ffa500"/>
     <use href="#md26324b329" x="181.08" y="180.36" style="fill: #ffa500; stroke: #ffa500"/>
     <use href="#md26324b329" x="201.24" y="101.88" style="fill: #ffa500; stroke: #ffa500"/>
     <use href="#md26324b329" x="222.12" y="114.12" style="fill: #ffa500; stroke: #ffa500"/>
     <use href="#md26324b329" x="243" y="126.36" style="fill: #ffa500; stroke: #ffa500"/>
     <use href="#md26324b329" x="263.88" y="137.88" style="fill: #ffa500; stroke: #ffa500"/>
     <use href="#md26324b329" x="284.76" y="150.12" style="fill: #ffa500; stroke: #ffa500"/>
     <use href="#md26324b329" x="305.64" y="162.36" style="fill: #ffa500; stroke: #ffa500"/>
     <use href="#md26324b329" x="326.52" y="174.6" style="fill: #ffa500; stroke: #ffa500"/>
     <use href="#md26324b329" x="346.68" y="186.84" style="fill: #ffa500; stroke: #ffa500"/>
     <use href="#md26324b329" x="367.56" y="199.08" style="fill: #ffa500; stroke: #ffa500"/>
     <use href="#md26324b329" x="388.44" y="211.32" style="fill: #ffa500; stroke: #ffa500"/>
     <use href="#md26324b329" x="409.32" y="223.56" style="fill: #ffa500; stroke: #ffa500"/>
     <use href="#md26324b329" x="430.2" y="261.72" style="fill: #ffa500; stroke: #ffa500"/>
     <use href="#md26324b329" x="451.08" y="300.6" style="fill: #ffa500; stroke: #ffa500"/>
     <use href="#md26324b329" x="471.96" y="291.24" style="fill: #ffa500; stroke: #ffa500"/>
     <use href="#md26324b329" x="492.12" y="281.88" style="fill: #ffa500; stroke: #ffa500"/>
     <use href="#md26324b329" x="513" y="272.52" style="fill: #ffa500; stroke: #ffa500"/>
     <use href="#md26324b329" x="533.88" y="263.16" style="fill: #ffa500; stroke: #ffa500"/>
     <use href="#md26324b329" x="554.76" y="253.8" style="fill: #ffa500; stroke: #ffa500"/>
     <use href="#md26324b329" x="575.64" y="244.44" style="fill: #ffa500; stroke: #ffa500"/>
     <use href="#md26324b329" x="596.52" y="235.08" style="fill: #ffa500; stroke: #ffa500"/>
     <use href="#md26324b329" x="617.4" y="225.72" style="fill: #ffa500; stroke: #ffa500"/>
     <use href="#md26324b329" x="637.56" y="216.36" style="fill: #ffa500; stroke: #ffa500"/>
     <use href="#md26324b329" x="658.44" y="207" style="fill: #ffa500; stroke: #ffa500"/>
     <use href="#md26324b329" x="679.32" y="197.64" style="fill: #ffa500; stroke: #ffa500"/>
    </g>
   </g>
   <g id="line2d_77">
    <path d="M 76.590982 41.938364 L 97.3649 69.517543 L 118.138819 97.096722 L 138.912737 124.675901 L 159.686656 152.255081 L 180.460574 179.83426 L 201.234493 41.938364 L 222.008411 47.885124 L 242.78233 53.831885 L 263.556248 59.778645 L 284.330167 65.725406 L 305.104085 71.672166 L 325.878004 77.618927 L 346.651922 83.565687 L 367.425841 89.512448 L 388.199759 95.459208 L 408.973678 101.405969 L 429.747596 101.405969 L 450.521515 101.405969 L 471.295433 110.102812 L 492.069352 118.799656 L 512.84327 127.496499 L 533.617189 136.193343 L 554.391107 144.890186 L 575.165026 153.58703 L 595.938944 162.283873 L 616.712863 170.980716 L 637.486781 179.67756 L 658.2607 188.374403 L 679.034618 197.071247 " clip-path="url(#p3c53676259)" style="fill: none; stroke: #ff4d4d; stroke-width: 1.5; stroke-linecap: square"/>
    <defs>
     <path id="m78bf34448c" d="M 0 3 C 0.795609 3 1.55874 2.683901 2.12132 2.12132 C 2.683901 1.55874 3 0.795609 3 0 C 3 -0.795609 2.683901 -1.55874 2.12132 -2.12132 C 1.55874 -2.683901 0.795609 -3 0 -3 C -0.795609 -3 -1.55874 -2.683901 -2.12132 -2.12132 C -2.683901 -1.55874 -3 -0.795609 -3 0 C -3 0.795609 -2.683901 1.55874 -2.12132 2.12132 C -1.55874 2.683901 -0.795609 3 0 3 z
" style="stroke: #ff4d4d"/>
    </defs>
    <g clip-path="url(#p3c53676259)">
     <use href="#m78bf34448c" x="76.68" y="42.12" style="fill: #ff4d4d; stroke: #ff4d4d"/>
     <use href="#m78bf34448c" x="97.56" y="70.2" style="fill: #ff4d4d; stroke: #ff4d4d"/>
     <use href="#m78bf34448c" x="118.44" y="97.56" style="fill: #ff4d4d; stroke: #ff4d4d"/>
     <use href="#m78bf34448c" x="139.32" y="124.92" style="fill: #ff4d4d; stroke: #ff4d4d"/>
     <use href="#m78bf34448c" x="160.2" y="152.28" style="fill: #ff4d4d; stroke: #ff4d4d"/>
     <use href="#m78bf34448c" x="181.08" y="180.36" style="fill: #ff4d4d; stroke: #ff4d4d"/>
     <use href="#m78bf34448c" x="201.24" y="42.12" style="fill: #ff4d4d; stroke: #ff4d4d"/>
     <use href="#m78bf34448c" x="222.12" y="48.6" style="fill: #ff4d4d; stroke: #ff4d4d"/>
     <use href="#m78bf34448c" x="243" y="54.36" style="fill: #ff4d4d; stroke: #ff4d4d"/>
     <use href="#m78bf34448c" x="263.88" y="60.12" style="fill: #ff4d4d; stroke: #ff4d4d"/>
     <use href="#m78bf34448c" x="284.76" y="65.88" style="fill: #ff4d4d; stroke: #ff4d4d"/>
     <use href="#m78bf34448c" x="305.64" y="72.36" style="fill: #ff4d4d; stroke: #ff4d4d"/>
     <use href="#m78bf34448c" x="326.52" y="78.12" style="fill: #ff4d4d; stroke: #ff4d4d"/>
     <use href="#m78bf34448c" x="346.68" y="83.88" style="fill: #ff4d4d; stroke: #ff4d4d"/>
     <use href="#m78bf34448c" x="367.56" y="89.64" style="fill: #ff4d4d; stroke: #ff4d4d"/>
     <use href="#m78bf34448c" x="388.44" y="96.12" style="fill: #ff4d4d; stroke: #ff4d4d"/>
     <use href="#m78bf34448c" x="409.32" y="101.88" style="fill: #ff4d4d; stroke: #ff4d4d"/>
     <use href="#m78bf34448c" x="430.2" y="101.88" style="fill: #ff4d4d; stroke: #ff4d4d"/>
     <use href="#m78bf34448c" x="451.08" y="101.88" style="fill: #ff4d4d; stroke: #ff4d4d"/>
     <use href="#m78bf34448c" x="471.96" y="110.52" style="fill: #ff4d4d; stroke: #ff4d4d"/>
     <use href="#m78bf34448c" x="492.12" y="119.16" style="fill: #ff4d4d; stroke: #ff4d4d"/>
     <use href="#m78bf34448c" x="513" y="127.8" style="fill: #ff4d4d; stroke: #ff4d4d"/>
     <use href="#m78bf34448c" x="533.88" y="136.44" style="fill: #ff4d4d; stroke: #ff4d4d"/>
     <use href="#m78bf34448c" x="554.76" y="145.08" style="fill: #ff4d4d; stroke: #ff4d4d"/>
     <use href="#m78bf34448c" x="575.64" y="153.72" style="fill: #ff4d4d; stroke: #ff4d4d"/>
     <use href="#m78bf34448c" x="596.52" y="162.36" style="fill: #ff4d4d; stroke: #ff4d4d"/>
     <use href="#m78bf34448c" x="617.4" y="171" style="fill: #ff4d4d; stroke: #ff4d4d"/>
     <use href="#m78bf34448c" x="637.56" y="180.36" style="fill: #ff4d4d; stroke: #ff4d4d"/>
     <use href="#m78bf34448c" x="658.44" y="189" style="fill: #ff4d4d; stroke: #ff4d4d"/>
     <use href="#m78bf34448c" x="679.32" y="197.64" style="fill: #ff4d4d; stroke: #ff4d4d"/>
    </g>
   </g>
   <g id="line2d_78">
    <path d="M 76.590982 179.83426 L 97.3649 179.83426 L 118.138819 179.83426 L 138.912737 179.83426 L 159.686656 179.83426 L 180.460574 179.83426 L 201.234493 179.83426 L 222.008411 196.209397 L 242.78233 212.584535 L 263.556248 228.959673 L 284.330167 245.33481 L 305.104085 261.709948 L 325.878004 278.085086 L 346.651922 294.460223 L 367.425841 310.835361 L 388.199759 327.210499 L 408.973678 343.585636 L 429.747596 343.585636 L 450.521515 343.585636 L 471.295433 330.266146 L 492.069352 316.946656 L 512.84327 303.627166 L 533.617189 290.307677 L 554.391107 276.988187 L 575.165026 263.668697 L 595.938944 250.349207 L 616.712863 237.029717 L 637.486781 223.710227 L 658.2607 210.390737 L 679.034618 197.071247 " clip-path="url(#p3c53676259)" style="fill: none; stroke: #4d96ff; stroke-width: 1.5; stroke-linecap: square"/>
    <defs>
     <path id="m0487924ce2" d="M 0 3 C 0.795609 3 1.55874 2.683901 2.12132 2.12132 C 2.683901 1.55874 3 0.795609 3 0 C 3 -0.795609 2.683901 -1.55874 2.12132 -2.12132 C 1.55874 -2.683901 0.795609 -3 0 -3 C -0.795609 -3 -1.55874 -2.683901 -2.12132 -2.12132 C -2.683901 -1.55874 -3 -0.795609 -3 0 C -3 0.795609 -2.683901 1.55874 -2.12132 2.12132 C -1.55874 2.683901 -0.795609 3 0 3 z
" style="stroke: #4d96ff"/>
    </defs>
    <g clip-path="url(#p3c53676259)">
     <use href="#m0487924ce2" x="76.68" y="180.36" style="fill: #4d96ff; stroke: #4d96ff"/>
     <use href="#m0487924ce2" x="97.56" y="180.36" style="fill: #4d96ff; stroke: #4d96ff"/>
     <use href="#m0487924ce2" x="118.44" y="180.36" style="fill: #4d96ff; stroke: #4d96ff"/>
     <use href="#m0487924ce2" x="139.32" y="180.36" style="fill: #4d96ff; stroke: #4d96ff"/>
     <use href="#m0487924ce2" x="160.2" y="180.36" style="fill: #4d96ff; stroke: #4d96ff"/>
     <use href="#m0487924ce2" x="181.08" y="180.36" style="fill: #4d96ff; stroke: #4d96ff"/>
     <use href="#m0487924ce2" x="201.24" y="180.36" style="fill: #4d96ff; stroke: #4d96ff"/>
     <use href="#m0487924ce2" x="222.12" y="196.92" style="fill: #4d96ff; stroke: #4d96ff"/>
     <use href="#m0487924ce2" x="243" y="212.76" style="fill: #4d96ff; stroke: #4d96ff"/>
     <use href="#m0487924ce2" x="263.88" y="229.32" style="fill: #4d96ff; stroke: #4d96ff"/>
     <use href="#m0487924ce2" x="284.76" y="245.88" style="fill: #4d96ff; stroke: #4d96ff"/>
     <use href="#m0487924ce2" x="305.64" y="261.72" style="fill: #4d96ff; stroke: #4d96ff"/>
     <use href="#m0487924ce2" x="326.52" y="278.28" style="fill: #4d96ff; stroke: #4d96ff"/>
     <use href="#m0487924ce2" x="346.68" y="294.84" style="fill: #4d96ff; stroke: #4d96ff"/>
     <use href="#m0487924ce2" x="367.56" y="311.4" style="fill: #4d96ff; stroke: #4d96ff"/>
     <use href="#m0487924ce2" x="388.44" y="327.24" style="fill: #4d96ff; stroke: #4d96ff"/>
     <use href="#m0487924ce2" x="409.32" y="343.8" style="fill: #4d96ff; stroke: #4d96ff"/>
     <use href="#m0487924ce2" x="430.2" y="343.8" style="fill: #4d96ff; stroke: #4d96ff"/>
     <use href="#m0487924ce2" x="451.08" y="343.8" style="fill: #4d96ff; stroke: #4d96ff"/>
     <use href="#m0487924ce2" x="471.96" y="330.84" style="fill: #4d96ff; stroke: #4d96ff"/>
     <use href="#m0487924ce2" x="492.12" y="317.16" style="fill: #4d96ff; stroke: #4d96ff"/>
     <use href="#m0487924ce2" x="513" y="304.2" style="fill: #4d96ff; stroke: #4d96ff"/>
     <use href="#m0487924ce2" x="533.88" y="290.52" style="fill: #4d96ff; stroke: #4d96ff"/>
     <use href="#m0487924ce2" x="554.76" y="277.56" style="fill: #4d96ff; stroke: #4d96ff"/>
     <use href="#m0487924ce2" x="575.64" y="263.88" style="fill: #4d96ff; stroke: #4d96ff"/>
     <use href="#m0487924ce2" x="596.52" y="250.92" style="fill: #4d96ff; stroke: #4d96ff"/>
     <use href="#m0487924ce2" x="617.4" y="237.24" style="fill: #4d96ff; stroke: #4d96ff"/>
     <use href="#m0487924ce2" x="637.56" y="224.28" style="fill: #4d96ff; stroke: #4d96ff"/>
     <use href="#m0487924ce2" x="658.44" y="210.6" style="fill: #4d96ff; stroke: #4d96ff"/>
     <use href="#m0487924ce2" x="679.32" y="197.64" style="fill: #4d96ff; stroke: #4d96ff"/>
    </g>
   </g>
   <g id="patch_3">
    <path d="M 47.16 358.92 L 47.16 27" style="fill: none; stroke: #000000; stroke-width: 0.8; stroke-linejoin: miter; stroke-linecap: square"/>
   </g>
   <g id="patch_4">
    <path d="M 709.56 358.92 L 709.56 27" style="fill: none; stroke: #000000; stroke-width: 0.8; stroke-linejoin: miter; stroke-linecap: square"/>
   </g>
   <g id="patch_5">
    <path d="M 47.16 358.92 L 709.56 358.92" style="fill: none; stroke: #000000; stroke-width: 0.8; stroke-linejoin: miter; stroke-linecap: square"/>
   </g>
   <g id="patch_6">
    <path d="M 47.16 27 L 709.56 27" style="fill: none; stroke: #000000; stroke-width: 0.8; stroke-linejoin: miter; stroke-linecap: square"/>
   </g>
   <g id="text_40">
    <!-- ビクティニ◇/SM6a/PR 価格推移(過去30日間) -->
    <g transform="translate(254.8128 21.684) scale(0.12 -0.12)">
     <defs>
      <path id="IPAGothic-30d3" d="M 1375 4806 L 1900 4806 L 1900 2809 Q 3572 3188 4766 3922 L 5150 3506 Q 3663 2716 1900 2328 L 1900 1094 Q 1900 775 2091 700 Q 2288 616 3181 616 Q 4184 616 5413 750 L 5413 238 Q 4275 128 3281 128 Q 1956 128 1663 325 Q 1375 509 1375 997 L 1375 4806 z
M 5169 3847 Q 4906 4309 4600 4634 L 4934 4863 Q 5253 4522 5516 4091 L 5169 3847 z
M 5797 4166 Q 5497 4678 5216 4941 L 5534 5159 Q 5881 4841 6144 4403 L 5797 4166 z
" transform="matrix(0.0148437 0 0 0.0148437 2.5 1.90625)"/>
      <path id="IPAGothic-30af" d="M 4844 4191 L 5184 3941 Q 4619 1013 2028 -225 L 1656 184 Q 2838 675 3616 1625 Q 4359 2531 4600 3731 L 2778 3731 Q 2184 2681 1319 1959 L 941 2309 Q 2234 3353 2803 5022 L 3297 4881 Q 3234 4672 3016 4191 L 4844 4191 z
" transform="matrix(0.0148437 0 0 0.0148437 2.5 1.90625)"/>
      <path id="IPAGothic-30c6" d="M 563 3072 L 5741 3072 L 5741 2613 L 3578 2613 Q 3541 1516 3134 872 Q 2688 156 1663 -256 L 1313 156 Q 2334 538 2713 1166 Q 3003 1644 3034 2613 L 563 2613 L 563 3072 z
M 1406 4588 L 4941 4588 L 4941 4128 L 1406 4128 L 1406 4588 z
" transform="matrix(0.0148437 0 0 0.0148437 2.5 1.90625)"/>
      <path id="IPAGothic-30a3" d="M 3034 -231 L 3034 2188 Q 2344 1656 1516 1291 L 1191 1669 Q 2981 2428 4128 3922 L 4519 3634 Q 4138 3122 3534 2597 L 3534 -231 L 3034 -231 z
" transform="matrix(0.0148437 0 0 0.0148437 2.5 1.90625)"/>
      <path id="IPAGothic-30cb" d="M 1344 3916 L 5056 3916 L 5056 3416 L 1344 3416 L 1344 3916 z
M 659 1172 L 5741 1172 L 5741 666 L 659 666 L 659 1172 z
" transform="matrix(0.0148437 0 0 0.0148437 2.5 1.90625)"/>
      <path id="IPAGothic-25c7" d="M 3200 5300 L 6063 2431 L 3200 -434 L 341 2431 L 3200 5300 z
M 3200 4703 L 922 2431 L 3200 159 L 5481 2431 L 3200 4703 z
" transform="scale(0.015625)"/>
      <path id="IPAGothic-2f" d="M 2750 5259 L 3006 5147 L 441 -403 L 184 -288 L 2750 5259 z
" transform="matrix(0.015625 0 0 0.015625 0 -4.6875)"/>
      <path id="IPAGothic-53" d="M 831 1613 Q 869 666 1650 666 Q 1931 666 2119 806 Q 2381 1009 2381 1375 Q 2381 1769 2053 2069 Q 1828 2269 1281 2584 Q 416 3094 416 3800 Q 416 4247 697 4556 Q 1038 4934 1606 4934 Q 2666 4934 2809 3659 L 2284 3659 Q 2263 3953 2163 4128 Q 1963 4481 1606 4481 Q 1238 4481 1056 4231 Q 928 4053 928 3841 Q 928 3334 1753 2853 Q 2263 2556 2534 2284 Q 2900 1928 2900 1381 Q 2900 866 2572 550 Q 2222 197 1666 197 Q 969 197 581 709 Q 313 1066 294 1613 L 831 1613 z
" transform="matrix(0.0153125 0 0 0.0167188 0 -5.40625)"/>
      <path id="IPAGothic-4d" d="M 306 4806 L 944 4806 L 1597 1128 L 2250 4806 L 2891 4806 L 2891 325 L 2456 325 L 2456 3803 L 1834 325 L 1363 325 L 766 3803 L 766 325 L 306 325 L 306 4806 z
" transform="matrix(0.0153125 0 0 0.0167188 0 -5.40625)"/>
      <path id="IPAGothic-61" d="M 444 2478 Q 569 3491 1603 3491 Q 2644 3491 2644 2375 L 2644 847 Q 2644 666 2809 666 Q 2866 666 2963 688 L 2963 238 Q 2834 206 2656 206 Q 2234 206 2178 678 Q 1744 206 1225 206 Q 884 206 666 384 Q 378 616 378 1069 Q 378 2122 2184 2247 L 2184 2375 Q 2184 3063 1603 3063 Q 1003 3063 956 2478 L 444 2478 z
M 2184 1844 Q 847 1778 847 1094 Q 847 634 1300 634 Q 1609 634 1903 872 Q 2184 1094 2184 1422 L 2184 1844 z
" transform="matrix(0.0153125 0 0 0.0167188 0 -5.40625)"/>
      <path id="IPAGothic-50" d="M 447 4806 L 1569 4806 Q 2122 4806 2466 4550 Q 2919 4200 2919 3544 Q 2919 2753 2278 2409 Q 1975 2244 1581 2244 L 959 2244 L 959 325 L 447 325 L 447 4806 z
M 959 4319 L 959 2731 L 1528 2731 Q 2394 2731 2394 3538 Q 2394 4009 2009 4209 Q 1803 4319 1528 4319 L 959 4319 z
" transform="matrix(0.0153125 0 0 0.0167188 0 -5.40625)"/>
      <path id="IPAGothic-52" d="M 447 4806 L 1556 4806 Q 2097 4806 2438 4563 Q 2872 4244 2872 3641 Q 2872 2759 2034 2500 L 2994 325 L 2406 325 L 1534 2416 L 947 2416 L 947 325 L 447 325 L 447 4806 z
M 947 4331 L 947 2875 L 1484 2875 Q 1766 2875 1975 2991 Q 2359 3191 2359 3628 Q 2359 4331 1478 4331 L 947 4331 z
" transform="matrix(0.0153125 0 0 0.0167188 0 -5.40625)"/>
      <path id="IPAGothic-4fa1" d="M 3144 3397 L 3144 4416 L 1831 4416 L 1831 4825 L 6081 4825 L 6081 4416 L 4713 4416 L 4713 3397 L 5850 3397 L 5850 -384 L 5416 -384 L 5416 0 L 2463 0 L 2463 -384 L 2034 -384 L 2034 3397 L 3144 3397 z
M 3572 3397 L 4281 3397 L 4281 4416 L 3572 4416 L 3572 3397 z
M 3169 3013 L 2463 3013 L 2463 391 L 3169 391 L 3169 3013 z
M 3572 3013 L 3572 391 L 4281 391 L 4281 3013 L 3572 3013 z
M 4684 3013 L 4684 391 L 5416 391 L 5416 3013 L 4684 3013 z
M 1394 3816 L 1394 -447 L 966 -447 L 966 2797 Q 756 2369 478 1972 L 244 2369 Q 950 3472 1375 5313 L 1809 5203 Q 1588 4344 1394 3816 z
" transform="matrix(0.0148437 0 0 0.0148437 2.5 1.90625)"/>
      <path id="IPAGothic-683c" d="M 1281 2650 Q 978 1569 500 806 L 231 1269 Q 866 2141 1231 3584 L 366 3584 L 366 3988 L 1281 3988 L 1281 5306 L 1716 5306 L 1716 3988 L 2534 3988 L 2534 3584 L 1716 3584 L 1716 3072 Q 2163 2719 2572 2331 L 2328 1953 Q 2059 2291 1716 2625 L 1716 -447 L 1281 -447 L 1281 2650 z
M 2938 1747 Q 2716 1613 2516 1509 L 2247 1841 Q 3244 2341 3963 3078 Q 3669 3369 3353 3841 Q 3028 3344 2638 2969 L 2356 3281 Q 3213 4131 3538 5300 L 3956 5184 Q 3834 4813 3834 4806 L 5250 4806 L 5478 4606 Q 5016 3650 4531 3091 Q 5238 2509 6131 2144 L 5838 1731 Q 5766 1766 5516 1900 L 5459 1931 L 5459 -447 L 5019 -447 L 5019 -128 L 3378 -128 L 3378 -447 L 2938 -447 L 2938 1747 z
M 3225 1931 L 5459 1931 Q 5416 1959 5325 2009 Q 4738 2344 4263 2781 Q 3906 2400 3225 1931 z
M 5019 1547 L 3378 1547 L 3378 263 L 5019 263 L 5019 1547 z
M 3672 4422 Q 3625 4331 3556 4184 Q 3825 3781 4225 3372 Q 4588 3809 4903 4422 L 3672 4422 z
" transform="matrix(0.0148437 0 0 0.0148437 2.5 1.90625)"/>
      <path id="IPAGothic-63a8" d="M 3244 4063 L 4244 4063 Q 4484 4581 4653 5228 L 5125 5100 Q 4913 4484 4691 4063 L 5906 4063 L 5906 3666 L 4647 3666 L 4647 2822 L 5747 2822 L 5747 2438 L 4647 2438 L 4647 1594 L 5747 1594 L 5747 1216 L 4647 1216 L 4647 319 L 6047 319 L 6047 -91 L 3244 -91 L 3244 -481 L 2816 -481 L 2816 3188 L 2791 3128 Q 2581 2744 2366 2463 L 2084 2797 Q 2813 3728 3166 5284 L 3616 5144 Q 3428 4494 3244 4063 z
M 3244 319 L 4231 319 L 4231 1216 L 3244 1216 L 3244 319 z
M 3244 1594 L 4231 1594 L 4231 2438 L 3244 2438 L 3244 1594 z
M 3244 2822 L 4231 2822 L 4231 3666 L 3244 3666 L 3244 2822 z
M 1184 4084 L 1184 5313 L 1613 5313 L 1613 4084 L 2328 4084 L 2328 3669 L 1613 3669 L 1613 2241 Q 1997 2341 2334 2453 L 2359 2069 Q 1809 1884 1631 1831 L 1613 1825 L 1613 44 Q 1613 -194 1522 -294 Q 1413 -403 1081 -403 Q 738 -403 519 -366 L 441 97 Q 741 38 978 38 Q 1184 38 1184 219 L 1184 1703 L 1144 1697 Q 738 1584 409 1509 L 275 1941 Q 722 2022 1138 2119 Q 1147 2122 1166 2125 Q 1175 2128 1184 2131 L 1184 3669 L 372 3669 L 372 4084 L 1184 4084 z
" transform="matrix(0.0148437 0 0 0.0148437 2.5 1.90625)"/>
      <path id="IPAGothic-79fb" d="M 4691 2419 L 5844 2419 L 6066 2188 Q 5503 1156 4759 513 Q 4078 -75 2975 -469 L 2681 -97 Q 3684 194 4384 728 Q 4094 1056 3731 1356 Q 3381 1053 2919 819 L 2669 1150 Q 3853 1772 4500 2878 L 4909 2772 Q 4772 2528 4691 2419 z
M 4409 2034 Q 4216 1803 4000 1588 Q 4375 1341 4703 1009 Q 5219 1488 5497 2034 L 4409 2034 z
M 1350 2328 Q 1009 1334 513 659 L 263 1081 Q 966 2022 1266 3128 L 366 3128 L 366 3531 L 1350 3531 L 1350 4400 Q 919 4322 575 4266 L 366 4644 Q 1506 4806 2381 5144 L 2700 4747 Q 2241 4600 1784 4491 L 1784 3531 L 2619 3531 L 2619 3128 L 1784 3128 L 1784 2688 Q 2303 2266 2722 1803 L 2444 1356 Q 2103 1841 1784 2181 L 1784 -447 L 1350 -447 L 1350 2328 z
M 4275 4800 L 5491 4800 L 5709 4609 Q 4759 2809 2872 2047 L 2603 2388 Q 3534 2722 4134 3244 Q 3869 3519 3450 3794 Q 3184 3569 2859 3359 L 2591 3666 Q 3578 4259 4056 5288 L 4478 5191 Q 4403 5034 4275 4800 z
M 4019 4416 Q 3856 4194 3700 4038 Q 4128 3759 4372 3553 L 4416 3513 Q 4884 3991 5119 4416 L 4019 4416 z
" transform="matrix(0.0148437 0 0 0.0148437 2.5 1.90625)"/>
      <path id="IPAGothic-904e" d="M 1703 741 Q 1975 363 2503 209 Q 2906 94 3931 94 Q 4897 94 6131 178 Q 6025 -59 5978 -300 Q 4931 -341 4384 -341 Q 2819 -341 2234 -128 Q 1763 44 1525 397 Q 1113 -81 653 -447 L 372 19 Q 900 341 1269 672 L 1269 2303 L 378 2303 L 378 2731 L 1703 2731 L 1703 741 z
M 5338 2778 L 2594 2778 L 2594 428 L 2178 428 L 2178 3138 L 2594 3138 L 2594 5025 L 5338 5025 L 5338 3138 L 5753 3138 L 5753 875 Q 5753 597 5638 513 Q 5547 441 5313 441 Q 5019 441 4713 478 L 4659 903 Q 4956 850 5184 850 Q 5338 850 5338 1016 L 5338 2778 z
M 4934 3138 L 4934 3784 L 4041 3784 L 4041 3138 L 4934 3138 z
M 3663 3138 L 3663 4116 L 4934 4116 L 4934 4666 L 3003 4666 L 3003 3138 L 3663 3138 z
M 4750 2350 L 4750 1113 L 3469 1113 L 3469 781 L 3091 781 L 3091 2350 L 4750 2350 z
M 3469 2019 L 3469 1453 L 4372 1453 L 4372 2019 L 3469 2019 z
M 1525 3775 Q 1053 4353 563 4738 L 878 5056 Q 1497 4566 1869 4122 L 1525 3775 z
" transform="matrix(0.0148437 0 0 0.0148437 2.5 1.90625)"/>
      <path id="IPAGothic-53bb" d="M 3009 2169 Q 3003 2150 2988 2131 Q 2634 1163 2144 344 L 2375 363 Q 3003 400 3963 497 L 4697 575 Q 4322 1025 3909 1419 L 4281 1650 Q 5041 956 5834 -34 L 5431 -347 Q 5347 -234 5200 -47 Q 5038 163 4991 222 Q 3384 -22 959 -213 L 800 269 Q 888 272 1153 288 Q 1428 303 1606 313 L 1656 403 Q 2147 1250 2491 2169 L 447 2169 L 447 2584 L 2931 2584 L 2931 3744 L 959 3744 L 959 4159 L 2931 4159 L 2931 5216 L 3419 5216 L 3419 4159 L 5438 4159 L 5438 3744 L 3419 3744 L 3419 2584 L 5950 2584 L 5950 2169 L 3009 2169 z
" transform="matrix(0.0148437 0 0 0.0148437 2.5 1.90625)"/>
      <path id="IPAGothic-9593" d="M 4450 2566 L 4450 353 L 2375 353 L 2375 -25 L 1953 -25 L 1953 2566 L 4450 2566 z
M 4028 2200 L 2375 2200 L 2375 1653 L 4028 1653 L 4028 2200 z
M 4028 1300 L 2375 1300 L 2375 719 L 4028 719 L 4028 1300 z
M 2913 5019 L 2913 3059 L 1056 3059 L 1056 -447 L 609 -447 L 609 5019 L 2913 5019 z
M 1056 4659 L 1056 4206 L 2497 4206 L 2497 4659 L 1056 4659 z
M 1056 3881 L 1056 3413 L 2497 3413 L 2497 3881 L 1056 3881 z
M 5788 5019 L 5788 91 Q 5788 -225 5641 -331 Q 5525 -409 5231 -409 Q 4800 -409 4481 -366 L 4419 97 Q 4853 38 5128 38 Q 5341 38 5341 244 L 5341 3059 L 3438 3059 L 3438 5019 L 5788 5019 z
M 3853 4659 L 3853 4206 L 5341 4206 L 5341 4659 L 3853 4659 z
M 3853 3881 L 3853 3413 L 5341 3413 L 5341 3881 L 3853 3881 z
" transform="matrix(0.0148437 0 0 0.0148437 2.5 1.90625)"/>
     </defs>
     <use href="#IPAGothic-30d3"/>
     <use href="#IPAGothic-30af" transform="translate(100 0)"/>
     <use href="#IPAGothic-30c6" transform="translate(200 0)"/>
     <use href="#IPAGothic-30a3" transform="translate(300 0)"/>
     <use href="#IPAGothic-30cb" transform="translate(400 0)"/>
     <use href="#IPAGothic-25c7" transform="translate(500 8.4)"/>
     <use href="#IPAGothic-2f" transform="translate(600 8.4)"/>
     <use href="#IPAGothic-53" transform="translate(650 8.4)"/>
     <use href="#IPAGothic-4d" transform="translate(700 8.4)"/>
     <use href="#IPAGothic-36" transform="translate(750 8.4)"/>
     <use href="#IPAGothic-61" transform="translate(800 8.4)"/>
     <use href="#IPAGothic-2f" transform="translate(850 8.4)"/>
     <use href="#IPAGothic-50" transform="translate(900 8.4)"/>
     <use href="#IPAGothic-52" transform="translate(950 8.4)"/>
     <use href="#IPAGothic-20" transform="translate(1000 8.4)"/>
     <use href="#IPAGothic-4fa1" transform="translate(1050 0)"/>
     <use href="#IPAGothic-683c" transform="translate(1150 0)"/>
     <use href="#IPAGothic-63a8" transform="translate(1250 0)"/>
     <use href="#IPAGothic-79fb" transform="translate(1350 0)"/>
     <use href="#IPAGothic-28" transform="translate(1450 8.4)"/>
     <use href="#IPAGothic-904e" transform="translate(1500 0)"/>
     <use href="#IPAGothic-53bb" transform="translate(1600 0)"/>
     <use href="#IPAGothic-33" transform="translate(1700 8.4)"/>
     <use href="#IPAGothic-30" transform="translate(1750 8.4)"/>
     <use href="#IPAGothic-65e5" transform="translate(1800 0)"/>
     <use href="#IPAGothic-9593" transform="translate(1900 0)"/>
     <use href="#IPAGothic-29" transform="translate(2000 8.4)"/>
    </g>
   </g>
   <g id="legend_1">
    <g id="patch_7">
     <path d="M 640.1568 92.072875 L 702.1568 92.072875 Q 704.1568 92.072875 704.1568 90.072875 L 704.1568 33.856 Q 704.1568 31.856 702.1568 31.856 L 640.1568 31.856 Q 638.1568 31.856 638.1568 33.856 L 638.1568 90.072875 Q 638.1568 92.072875 640.1568 92.072875 z
" style="fill: #ffffff; opacity: 0.8; stroke: #cccccc; stroke-linejoin: miter"/>
    </g>
    <g id="line2d_79">
     <path d="M 642.1568 40.446625 L 652.1568 40.446625 L 662.1568 40.446625 " style="fill: none; stroke: #2ecc71; stroke-width: 1.5; stroke-linecap: square"/>
     <g>
      <use href="#m2b40bc5d93" x="652.68" y="40.68" style="fill: #2ecc71; stroke: #2ecc71"/>
     </g>
    </g>
    <g id="text_41">
     <!-- 平均値 -->
     <g transform="translate(670.4448 44.0906) scale(0.1 -0.1)">
      <defs>
       <path id="IPAGothic-5e73" d="M 3419 4428 L 3419 1941 L 6078 1941 L 6078 1513 L 3419 1513 L 3419 -447 L 2931 -447 L 2931 1513 L 319 1513 L 319 1941 L 2931 1941 L 2931 4428 L 638 4428 L 638 4856 L 5759 4856 L 5759 4428 L 3419 4428 z
M 1728 2278 Q 1488 3094 1081 3859 L 1541 4038 Q 1872 3422 2219 2472 L 1728 2278 z
M 4134 2425 Q 4506 3138 4813 4128 L 5303 3944 Q 4984 3006 4569 2228 L 4134 2425 z
" transform="matrix(0.0148437 0 0 0.0148437 2.5 1.90625)"/>
       <path id="IPAGothic-5747" d="M 1206 3794 L 1206 5147 L 1659 5147 L 1659 3794 L 2369 3794 L 2369 3372 L 1659 3372 L 1659 1325 Q 2081 1516 2481 1722 L 2566 1313 Q 1556 778 559 397 L 334 838 Q 803 975 1206 1138 L 1206 3372 L 413 3372 L 413 3794 L 1206 3794 z
M 3475 4244 L 5844 4244 Q 5834 1131 5619 184 Q 5494 -366 4838 -366 Q 4369 -366 3859 -306 L 3769 184 Q 4241 88 4731 88 Q 5059 88 5147 306 Q 5359 919 5369 3828 L 3316 3828 Q 3013 3119 2466 2472 L 2150 2828 Q 2944 3788 3259 5263 L 3719 5147 Q 3619 4663 3475 4244 z
M 2978 2847 L 4681 2847 L 4681 2431 L 2978 2431 L 2978 2847 z
M 2559 1044 Q 3747 1338 4838 1797 L 4891 1388 Q 3831 891 2766 588 L 2559 1044 z
" transform="matrix(0.0148437 0 0 0.0148437 2.5 1.90625)"/>
      </defs>
      <use href="#IPAGothic-5e73"/>
      <use href="#IPAGothic-5747" transform="translate(100 0)"/>
      <use href="#IPAGothic-5024" transform="translate(200 0)"/>
     </g>
    </g>
    <g id="line2d_80">
     <path d="M 642.1568 54.755375 L 652.1568 54.755375 L 662.1568 54.755375 " style="fill: none; stroke: #ffa500; stroke-width: 1.5; stroke-linecap: square"/>
     <g>
      <use href="#md26324b329" x="652.68" y="55.08" style="fill: #ffa500; stroke: #ffa500"/>
     </g>
    </g>
    <g id="text_42">
     <!-- 中央値 -->
     <g transform="translate(670.4448 58.3994) scale(0.1 -0.1)">
      <defs>
       <path id="IPAGothic-4e2d" d="M 2925 3950 L 2925 5209 L 3425 5209 L 3425 3950 L 5613 3950 L 5613 1125 L 5125 1125 L 5125 1594 L 3425 1594 L 3425 -447 L 2925 -447 L 2925 1594 L 1263 1594 L 1263 1094 L 775 1094 L 775 3950 L 2925 3950 z
M 1263 3534 L 1263 2009 L 2925 2009 L 2925 3534 L 1263 3534 z
M 5125 2009 L 5125 3534 L 3425 3534 L 3425 2009 L 5125 2009 z
" transform="matrix(0.0148437 0 0 0.0148437 2.5 1.90625)"/>
       <path id="IPAGothic-592e" d="M 3578 1947 Q 4238 694 5972 134 L 5634 -294 Q 3847 378 3253 1750 Q 2916 216 809 -403 L 506 16 Q 2547 475 2894 1947 L 353 1947 L 353 2363 L 1256 2363 L 1256 4178 L 2938 4178 L 2938 5216 L 3413 5216 L 3413 4178 L 5141 4178 L 5141 2363 L 6044 2363 L 6044 1947 L 3578 1947 z
M 2938 3763 L 1703 3763 L 1703 2363 L 2938 2363 L 2938 3763 z
M 3413 3763 L 3413 2363 L 4688 2363 L 4688 3763 L 3413 3763 z
" transform="matrix(0.0148437 0 0 0.0148437 2.5 1.90625)"/>
      </defs>
      <use href="#IPAGothic-4e2d"/>
      <use href="#IPAGothic-592e" transform="translate(100 0)"/>
      <use href="#IPAGothic-5024" transform="translate(200 0)"/>
     </g>
    </g>
    <g id="line2d_81">
     <path d="M 642.1568 69.200062 L 652.1568 69.200062 L 662.1568 69.200062 " style="fill: none; stroke: #ff4d4d; stroke-width: 1.5; stroke-linecap: square"/>
     <g>
      <use href="#m78bf34448c" x="652.68" y="69.48" style="fill: #ff4d4d; stroke: #ff4d4d"/>
     </g>
    </g>
    <g id="text_43">
     <!-- 最高値 -->
     <g transform="translate(670.4448 72.8441) scale(0.1 -0.1)">
      <defs>
       <path id="IPAGothic-6700" d="M 5106 5050 L 5106 3275 L 1288 3275 L 1288 5050 L 5106 5050 z
M 1741 4697 L 1741 4331 L 4659 4331 L 4659 4697 L 1741 4697 z
M 1741 4000 L 1741 3622 L 4659 3622 L 4659 4000 L 1741 4000 z
M 2925 2528 L 2925 -447 L 2503 -447 L 2503 231 Q 1875 97 525 -75 L 409 359 Q 491 363 609 372 Q 728 381 756 384 L 994 403 L 994 2528 L 384 2528 L 384 2900 L 6016 2900 L 6016 2528 L 2925 2528 z
M 2503 2528 L 1403 2528 L 1403 2088 L 2503 2088 L 2503 2528 z
M 2503 1763 L 1403 1763 L 1403 1309 L 2503 1309 L 2503 1763 z
M 2503 984 L 1403 984 L 1403 434 L 1763 472 Q 2159 500 2503 550 L 2503 984 z
M 4844 588 Q 5350 225 6047 -9 L 5753 -419 Q 5066 -128 4556 288 Q 4000 -241 3281 -534 L 3006 -163 Q 3738 84 4263 563 Q 3722 1141 3463 1803 L 3084 1803 L 3084 2169 L 5428 2169 L 5656 1963 Q 5328 1178 4881 638 L 4844 588 z
M 4538 850 Q 4884 1275 5119 1803 L 3872 1803 Q 4113 1275 4538 850 z
" transform="matrix(0.0148437 0 0 0.0148437 2.5 1.90625)"/>
       <path id="IPAGothic-9ad8" d="M 4481 1588 L 4481 366 L 2319 366 L 2319 0 L 1891 0 L 1891 1588 L 4481 1588 z
M 4053 1247 L 2319 1247 L 2319 706 L 4053 706 L 4053 1247 z
M 3419 4641 L 5916 4641 L 5916 4263 L 481 4263 L 481 4641 L 2938 4641 L 2938 5313 L 3419 5313 L 3419 4641 z
M 4884 3878 L 4884 2694 L 1513 2694 L 1513 3878 L 4884 3878 z
M 1959 3531 L 1959 3041 L 4438 3041 L 4438 3531 L 1959 3531 z
M 5684 2309 L 5684 103 Q 5684 -378 5091 -378 Q 4703 -378 4316 -350 L 4253 109 Q 4706 44 5006 44 Q 5231 44 5231 250 L 5231 1944 L 1166 1944 L 1166 -447 L 713 -447 L 713 2309 L 5684 2309 z
" transform="matrix(0.0148437 0 0 0.0148437 2.5 1.90625)"/>
      </defs>
      <use href="#IPAGothic-6700"/>
      <use href="#IPAGothic-9ad8" transform="translate(100 0)"/>
      <use href="#IPAGothic-5024" transform="translate(200 0)"/>
     </g>
    </g>
    <g id="line2d_82">
     <path d="M 642.1568 83.64475 L 652.1568 83.64475 L 662.1568 83.64475 " style="fill: none; stroke: #4d96ff; stroke-width: 1.5; stroke-linecap: square"/>
     <g>
      <use href="#m0487924ce2" x="652.68" y="83.88" style="fill: #4d96ff; stroke: #4d96ff"/>
     </g>
    </g>
    <g id="text_44">
     <!-- 最安値 -->
     <g transform="translate(670.4448 87.2888) scale(0.1 -0.1)">
      <defs>
       <path id="IPAGothic-5b89" d="M 4728 2381 Q 4484 1484 3969 872 Q 5038 403 5778 31 L 5397 -353 Q 4466 163 3616 538 Q 2703 -194 838 -403 L 550 31 Q 2272 166 3150 738 Q 2625 963 1925 1216 Q 1863 1119 1663 831 L 1259 1050 Q 1684 1650 2088 2381 L 416 2381 L 416 2784 L 2284 2784 Q 2563 3388 2713 3828 L 3169 3706 Q 2972 3178 2791 2784 L 5984 2784 L 5984 2381 L 4728 2381 z
M 4244 2381 L 2600 2381 Q 2459 2097 2209 1659 L 2150 1563 Q 2750 1359 3366 1113 L 3525 1050 Q 4019 1572 4244 2381 z
M 3419 4428 L 5753 4428 L 5753 3163 L 5278 3163 L 5278 4025 L 1116 4025 L 1116 3163 L 641 3163 L 641 4428 L 2931 4428 L 2931 5313 L 3419 5313 L 3419 4428 z
" transform="matrix(0.0148437 0 0 0.0148437 2.5 1.90625)"/>
      </defs>
      <use href="#IPAGothic-6700"/>
      <use href="#IPAGothic-5b89" transform="translate(100 0)"/>
      <use href="#IPAGothic-5024" transform="translate(200 0)"/>
     </g>
    </g>
   </g>
  </g>
 </g>
 <defs>
  <clipPath id="p3c53676259">
   <rect x="46.4688" y="26.856" width="662.688" height="331.812"/>
  </clipPath>
 </defs>
</svg>

</body></html>
